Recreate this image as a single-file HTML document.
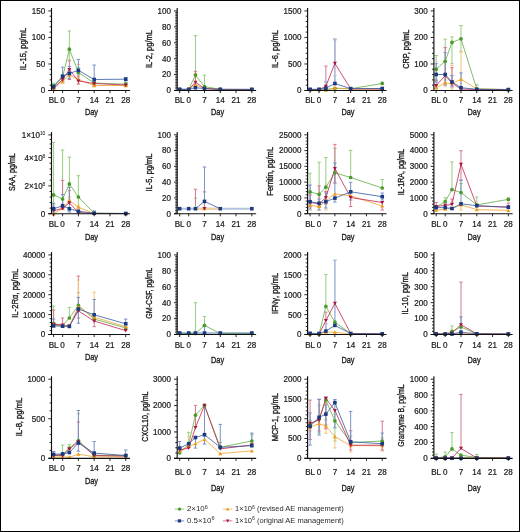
<!DOCTYPE html>
<html><head><meta charset="utf-8"><style>
html,body{margin:0;padding:0;background:#fff;}
svg{display:block;will-change:transform;}
text{font-family:"Liberation Sans",sans-serif;}
</style></head><body>
<svg width="520" height="532" viewBox="0 0 520 532">
<rect x="0" y="0" width="520" height="532" fill="#fff"/>
<g>
<path d="M53.58 85.8V83.2M51.88 83.2H55.28" stroke="#98cc80" stroke-width="1.0" fill="none"/>
<path d="M53.58 85.8V88.5M51.88 88.5H55.28" stroke="#98cc80" stroke-width="1.0" fill="none"/>
<path d="M62.6 77.1V74.5M60.9 74.5H64.3" stroke="#98cc80" stroke-width="1.0" fill="none"/>
<path d="M62.6 77.1V80M60.9 80H64.3" stroke="#98cc80" stroke-width="1.0" fill="none"/>
<path d="M69.36 49.2V31M67.66 31H71.06" stroke="#98cc80" stroke-width="1.0" fill="none"/>
<path d="M69.36 49.2V60M67.66 60H71.06" stroke="#98cc80" stroke-width="1.0" fill="none"/>
<path d="M78.39 72.4V67.5M76.69 67.5H80.09" stroke="#98cc80" stroke-width="1.0" fill="none"/>
<path d="M78.39 72.4V78M76.69 78H80.09" stroke="#98cc80" stroke-width="1.0" fill="none"/>
<path d="M94.17 83V81.5M92.47 81.5H95.87" stroke="#98cc80" stroke-width="1.0" fill="none"/>
<path d="M94.17 83V85M92.47 85H95.87" stroke="#98cc80" stroke-width="1.0" fill="none"/>
<path d="M125.74 84.2V82.5M124.04 82.5H127.44" stroke="#98cc80" stroke-width="1.0" fill="none"/>
<path d="M125.74 84.2V86M124.04 86H127.44" stroke="#98cc80" stroke-width="1.0" fill="none"/>
<path d="M53.58 88.5V87M51.88 87H55.28" stroke="#f4c478" stroke-width="1.0" fill="none"/>
<path d="M53.58 88.5V89.8M51.88 89.8H55.28" stroke="#f4c478" stroke-width="1.0" fill="none"/>
<path d="M62.6 81V79M60.9 79H64.3" stroke="#f4c478" stroke-width="1.0" fill="none"/>
<path d="M62.6 81V83.5M60.9 83.5H64.3" stroke="#f4c478" stroke-width="1.0" fill="none"/>
<path d="M69.36 74.8V70M67.66 70H71.06" stroke="#f4c478" stroke-width="1.0" fill="none"/>
<path d="M69.36 74.8V78M67.66 78H71.06" stroke="#f4c478" stroke-width="1.0" fill="none"/>
<path d="M78.39 79.5V64.5M76.69 64.5H80.09" stroke="#f4c478" stroke-width="1.0" fill="none"/>
<path d="M78.39 79.5V84.2M76.69 84.2H80.09" stroke="#f4c478" stroke-width="1.0" fill="none"/>
<path d="M94.17 85.5V84M92.47 84H95.87" stroke="#f4c478" stroke-width="1.0" fill="none"/>
<path d="M94.17 85.5V87M92.47 87H95.87" stroke="#f4c478" stroke-width="1.0" fill="none"/>
<path d="M125.74 85.5V84.5M124.04 84.5H127.44" stroke="#f4c478" stroke-width="1.0" fill="none"/>
<path d="M125.74 85.5V87M124.04 87H127.44" stroke="#f4c478" stroke-width="1.0" fill="none"/>
<path d="M53.58 88V86M51.88 86H55.28" stroke="#d57892" stroke-width="1.0" fill="none"/>
<path d="M53.58 88V89.5M51.88 89.5H55.28" stroke="#d57892" stroke-width="1.0" fill="none"/>
<path d="M62.6 79.5V77M60.9 77H64.3" stroke="#d57892" stroke-width="1.0" fill="none"/>
<path d="M62.6 79.5V82M60.9 82H64.3" stroke="#d57892" stroke-width="1.0" fill="none"/>
<path d="M69.36 69.7V60.9M67.66 60.9H71.06" stroke="#d57892" stroke-width="1.0" fill="none"/>
<path d="M69.36 69.7V79.5M67.66 79.5H71.06" stroke="#d57892" stroke-width="1.0" fill="none"/>
<path d="M78.39 81V76M76.69 76H80.09" stroke="#d57892" stroke-width="1.0" fill="none"/>
<path d="M78.39 81V84M76.69 84H80.09" stroke="#d57892" stroke-width="1.0" fill="none"/>
<path d="M94.17 83.5V82M92.47 82H95.87" stroke="#d57892" stroke-width="1.0" fill="none"/>
<path d="M94.17 83.5V85M92.47 85H95.87" stroke="#d57892" stroke-width="1.0" fill="none"/>
<path d="M125.74 85V84M124.04 84H127.44" stroke="#d57892" stroke-width="1.0" fill="none"/>
<path d="M125.74 85V86M124.04 86H127.44" stroke="#d57892" stroke-width="1.0" fill="none"/>
<path d="M53.58 86.9V84.5M51.88 84.5H55.28" stroke="#7891c8" stroke-width="1.0" fill="none"/>
<path d="M53.58 86.9V89M51.88 89H55.28" stroke="#7891c8" stroke-width="1.0" fill="none"/>
<path d="M62.6 76.3V67.2M60.9 67.2H64.3" stroke="#7891c8" stroke-width="1.0" fill="none"/>
<path d="M62.6 76.3V81M60.9 81H64.3" stroke="#7891c8" stroke-width="1.0" fill="none"/>
<path d="M69.36 73.5V66.5M67.66 66.5H71.06" stroke="#7891c8" stroke-width="1.0" fill="none"/>
<path d="M69.36 73.5V78.7M67.66 78.7H71.06" stroke="#7891c8" stroke-width="1.0" fill="none"/>
<path d="M78.39 70.3V59.4M76.69 59.4H80.09" stroke="#7891c8" stroke-width="1.0" fill="none"/>
<path d="M78.39 70.3V74M76.69 74H80.09" stroke="#7891c8" stroke-width="1.0" fill="none"/>
<path d="M94.17 79.5V65M92.47 65H95.87" stroke="#7891c8" stroke-width="1.0" fill="none"/>
<path d="M94.17 79.5V82M92.47 82H95.87" stroke="#7891c8" stroke-width="1.0" fill="none"/>
<path d="M125.74 79.2V77.5M124.04 77.5H127.44" stroke="#7891c8" stroke-width="1.0" fill="none"/>
<path d="M125.74 79.2V81M124.04 81H127.44" stroke="#7891c8" stroke-width="1.0" fill="none"/>
<path d="M53.58 85.8L62.6 77.1L69.36 49.2L78.39 72.4L94.17 83L125.74 84.2" stroke="#62ad44" stroke-width="0.8" fill="none"/>
<path d="M53.58 88.5L62.6 81L69.36 74.8L78.39 79.5L94.17 85.5L125.74 85.5" stroke="#f0a232" stroke-width="0.8" fill="none"/>
<path d="M53.58 88L62.6 79.5L69.36 69.7L78.39 81L94.17 83.5L125.74 85" stroke="#c0224f" stroke-width="0.8" fill="none"/>
<path d="M53.58 86.9L62.6 76.3L69.36 73.5L78.39 70.3L94.17 79.5L125.74 79.2" stroke="#34599f" stroke-width="0.8" fill="none"/>
<circle cx="53.58" cy="85.8" r="1.85" fill="#4a9a2a"/>
<circle cx="62.6" cy="77.1" r="1.85" fill="#4a9a2a"/>
<circle cx="69.36" cy="49.2" r="1.85" fill="#4a9a2a"/>
<circle cx="78.39" cy="72.4" r="1.85" fill="#4a9a2a"/>
<circle cx="94.17" cy="83" r="1.85" fill="#4a9a2a"/>
<circle cx="125.74" cy="84.2" r="1.85" fill="#4a9a2a"/>
<path d="M51.58 90.1L55.58 90.1L53.58 86.6Z" fill="#ef9b1c"/>
<path d="M60.6 82.6L64.6 82.6L62.6 79.1Z" fill="#ef9b1c"/>
<path d="M67.36 76.4L71.36 76.4L69.36 72.9Z" fill="#ef9b1c"/>
<path d="M76.39 81.1L80.39 81.1L78.39 77.6Z" fill="#ef9b1c"/>
<path d="M92.17 87.1L96.17 87.1L94.17 83.6Z" fill="#ef9b1c"/>
<path d="M123.74 87.1L127.74 87.1L125.74 83.6Z" fill="#ef9b1c"/>
<path d="M51.58 86.4L55.58 86.4L53.58 89.9Z" fill="#aa1442"/>
<path d="M60.6 77.9L64.6 77.9L62.6 81.4Z" fill="#aa1442"/>
<path d="M67.36 68.1L71.36 68.1L69.36 71.6Z" fill="#aa1442"/>
<path d="M76.39 79.4L80.39 79.4L78.39 82.9Z" fill="#aa1442"/>
<path d="M92.17 81.9L96.17 81.9L94.17 85.4Z" fill="#aa1442"/>
<path d="M123.74 83.4L127.74 83.4L125.74 86.9Z" fill="#aa1442"/>
<rect x="51.78" y="85.1" width="3.6" height="3.6" fill="#1b3a82"/>
<rect x="60.8" y="74.5" width="3.6" height="3.6" fill="#1b3a82"/>
<rect x="67.56" y="71.7" width="3.6" height="3.6" fill="#1b3a82"/>
<rect x="76.59" y="68.5" width="3.6" height="3.6" fill="#1b3a82"/>
<rect x="92.37" y="77.7" width="3.6" height="3.6" fill="#1b3a82"/>
<rect x="123.94" y="77.4" width="3.6" height="3.6" fill="#1b3a82"/>
<path d="M51.5 8V90.5M48.3 90.5H130.04" stroke="#111" stroke-width="1.15" fill="none"/>
<path d="M53.58 90.5v2.6M62.6 90.5v2.6M78.39 90.5v2.6M94.17 90.5v2.6M109.95 90.5v2.6M125.74 90.5v2.6" stroke="#111" stroke-width="0.9" fill="none"/>
<path d="M48.3 90.5H51.5M49.6 85.19H51.5M49.6 79.89H51.5M49.6 74.58H51.5M49.6 69.27H51.5M48.3 63.97H51.5M49.6 58.66H51.5M49.6 53.35H51.5M49.6 48.05H51.5M49.6 42.74H51.5M48.3 37.43H51.5M49.6 32.13H51.5M49.6 26.82H51.5M49.6 21.51H51.5M49.6 16.21H51.5M48.3 10.9H51.5" stroke="#111" stroke-width="0.9" fill="none"/>
<text x="0" y="0" text-anchor="end" font-size="8.4" fill="#1a1a1a" stroke="#1a1a1a" stroke-width="0.22" transform="translate(45.3 93.4) scale(0.96 1)">0</text>
<text x="0" y="0" text-anchor="end" font-size="8.4" fill="#1a1a1a" stroke="#1a1a1a" stroke-width="0.22" transform="translate(45.3 66.87) scale(0.96 1)">50</text>
<text x="0" y="0" text-anchor="end" font-size="8.4" fill="#1a1a1a" stroke="#1a1a1a" stroke-width="0.22" transform="translate(45.3 40.33) scale(0.96 1)">100</text>
<text x="0" y="0" text-anchor="end" font-size="8.4" fill="#1a1a1a" stroke="#1a1a1a" stroke-width="0.22" transform="translate(45.3 13.8) scale(0.96 1)">150</text>
<text x="0" y="0" text-anchor="middle" font-size="8.4" fill="#1a1a1a" stroke="#1a1a1a" stroke-width="0.22" transform="translate(53.58 102.5) scale(0.96 1)">BL</text>
<text x="0" y="0" text-anchor="middle" font-size="8.4" fill="#1a1a1a" stroke="#1a1a1a" stroke-width="0.22" transform="translate(62.6 102.5) scale(0.96 1)">0</text>
<text x="0" y="0" text-anchor="middle" font-size="8.4" fill="#1a1a1a" stroke="#1a1a1a" stroke-width="0.22" transform="translate(78.39 102.5) scale(0.96 1)">7</text>
<text x="0" y="0" text-anchor="middle" font-size="8.4" fill="#1a1a1a" stroke="#1a1a1a" stroke-width="0.22" transform="translate(94.17 102.5) scale(0.96 1)">14</text>
<text x="0" y="0" text-anchor="middle" font-size="8.4" fill="#1a1a1a" stroke="#1a1a1a" stroke-width="0.22" transform="translate(109.95 102.5) scale(0.96 1)">21</text>
<text x="0" y="0" text-anchor="middle" font-size="8.4" fill="#1a1a1a" stroke="#1a1a1a" stroke-width="0.22" transform="translate(125.74 102.5) scale(0.96 1)">28</text>
<text x="0" y="0" text-anchor="middle" font-size="9.6" fill="#1a1a1a" stroke="#1a1a1a" stroke-width="0.34" transform="translate(91.46 114.9) scale(0.77 1)">Day</text>
<text x="0" y="0" text-anchor="middle" font-size="9.0" fill="#1a1a1a" stroke="#1a1a1a" stroke-width="0.34" transform="translate(26.1 49) rotate(-90) scale(0.839 1)">IL-15, pg/mL</text>
</g>
<g>
<path d="M195.46 75.1V35.7M193.76 35.7H197.16" stroke="#98cc80" stroke-width="1.0" fill="none"/>
<path d="M204.48 86.6V75.1M202.78 75.1H206.18" stroke="#98cc80" stroke-width="1.0" fill="none"/>
<path d="M195.46 84.7V73.5M193.76 73.5H197.16" stroke="#f4c478" stroke-width="1.0" fill="none"/>
<path d="M195.46 82.3V71.3M193.76 71.3H197.16" stroke="#d57892" stroke-width="1.0" fill="none"/>
<path d="M195.46 87.7V85M193.76 85H197.16" stroke="#7891c8" stroke-width="1.0" fill="none"/>
<path d="M179.68 89.3L188.7 89.3L195.46 75.1L204.48 86.6L220.27 89.3L251.84 89.5" stroke="#62ad44" stroke-width="0.8" fill="none"/>
<path d="M179.68 89.5L188.7 89.5L195.46 84.7L204.48 88.5L220.27 89.5L251.84 89.5" stroke="#f0a232" stroke-width="0.8" fill="none"/>
<path d="M179.68 89.5L188.7 89.5L195.46 82.3L204.48 88.5L220.27 89.5L251.84 89.5" stroke="#c0224f" stroke-width="0.8" fill="none"/>
<path d="M179.68 89.3L188.7 89.3L195.46 87.7L204.48 88.6L220.27 89.3L251.84 89.3" stroke="#34599f" stroke-width="0.8" fill="none"/>
<circle cx="179.68" cy="89.3" r="1.85" fill="#4a9a2a"/>
<circle cx="188.7" cy="89.3" r="1.85" fill="#4a9a2a"/>
<circle cx="195.46" cy="75.1" r="1.85" fill="#4a9a2a"/>
<circle cx="204.48" cy="86.6" r="1.85" fill="#4a9a2a"/>
<circle cx="220.27" cy="89.3" r="1.85" fill="#4a9a2a"/>
<circle cx="251.84" cy="89.5" r="1.85" fill="#4a9a2a"/>
<path d="M177.68 91.1L181.68 91.1L179.68 87.6Z" fill="#ef9b1c"/>
<path d="M186.7 91.1L190.7 91.1L188.7 87.6Z" fill="#ef9b1c"/>
<path d="M193.46 86.3L197.46 86.3L195.46 82.8Z" fill="#ef9b1c"/>
<path d="M202.48 90.1L206.48 90.1L204.48 86.6Z" fill="#ef9b1c"/>
<path d="M218.27 91.1L222.27 91.1L220.27 87.6Z" fill="#ef9b1c"/>
<path d="M249.84 91.1L253.84 91.1L251.84 87.6Z" fill="#ef9b1c"/>
<path d="M177.68 87.9L181.68 87.9L179.68 91.4Z" fill="#aa1442"/>
<path d="M186.7 87.9L190.7 87.9L188.7 91.4Z" fill="#aa1442"/>
<path d="M193.46 80.7L197.46 80.7L195.46 84.2Z" fill="#aa1442"/>
<path d="M202.48 86.9L206.48 86.9L204.48 90.4Z" fill="#aa1442"/>
<path d="M218.27 87.9L222.27 87.9L220.27 91.4Z" fill="#aa1442"/>
<path d="M249.84 87.9L253.84 87.9L251.84 91.4Z" fill="#aa1442"/>
<rect x="177.88" y="87.5" width="3.6" height="3.6" fill="#1b3a82"/>
<rect x="186.9" y="87.5" width="3.6" height="3.6" fill="#1b3a82"/>
<rect x="193.66" y="85.9" width="3.6" height="3.6" fill="#1b3a82"/>
<rect x="202.68" y="86.8" width="3.6" height="3.6" fill="#1b3a82"/>
<rect x="218.47" y="87.5" width="3.6" height="3.6" fill="#1b3a82"/>
<rect x="250.04" y="87.5" width="3.6" height="3.6" fill="#1b3a82"/>
<path d="M177.2 8V90.5M174 90.5H256.14" stroke="#111" stroke-width="1.15" fill="none"/>
<path d="M179.68 90.5v2.6M188.7 90.5v2.6M204.48 90.5v2.6M220.27 90.5v2.6M236.05 90.5v2.6M251.84 90.5v2.6" stroke="#111" stroke-width="0.9" fill="none"/>
<path d="M174 90.5H177.2M175.3 88.91H177.2M175.3 87.32H177.2M175.3 85.72H177.2M175.3 84.13H177.2M175.3 82.54H177.2M175.3 80.95H177.2M175.3 79.36H177.2M175.3 77.76H177.2M175.3 76.17H177.2M174 74.58H177.2M175.3 72.99H177.2M175.3 71.4H177.2M175.3 69.8H177.2M175.3 68.21H177.2M175.3 66.62H177.2M175.3 65.03H177.2M175.3 63.44H177.2M175.3 61.84H177.2M175.3 60.25H177.2M174 58.66H177.2M175.3 57.07H177.2M175.3 55.48H177.2M175.3 53.88H177.2M175.3 52.29H177.2M175.3 50.7H177.2M175.3 49.11H177.2M175.3 47.52H177.2M175.3 45.92H177.2M175.3 44.33H177.2M174 42.74H177.2M175.3 41.15H177.2M175.3 39.56H177.2M175.3 37.96H177.2M175.3 36.37H177.2M175.3 34.78H177.2M175.3 33.19H177.2M175.3 31.6H177.2M175.3 30H177.2M175.3 28.41H177.2M174 26.82H177.2M175.3 25.23H177.2M175.3 23.64H177.2M175.3 22.04H177.2M175.3 20.45H177.2M175.3 18.86H177.2M175.3 17.27H177.2M175.3 15.68H177.2M175.3 14.08H177.2M175.3 12.49H177.2M174 10.9H177.2" stroke="#111" stroke-width="0.9" fill="none"/>
<text x="0" y="0" text-anchor="end" font-size="8.4" fill="#1a1a1a" stroke="#1a1a1a" stroke-width="0.22" transform="translate(171 93.4) scale(0.96 1)">0</text>
<text x="0" y="0" text-anchor="end" font-size="8.4" fill="#1a1a1a" stroke="#1a1a1a" stroke-width="0.22" transform="translate(171 77.48) scale(0.96 1)">20</text>
<text x="0" y="0" text-anchor="end" font-size="8.4" fill="#1a1a1a" stroke="#1a1a1a" stroke-width="0.22" transform="translate(171 61.56) scale(0.96 1)">40</text>
<text x="0" y="0" text-anchor="end" font-size="8.4" fill="#1a1a1a" stroke="#1a1a1a" stroke-width="0.22" transform="translate(171 45.64) scale(0.96 1)">60</text>
<text x="0" y="0" text-anchor="end" font-size="8.4" fill="#1a1a1a" stroke="#1a1a1a" stroke-width="0.22" transform="translate(171 29.72) scale(0.96 1)">80</text>
<text x="0" y="0" text-anchor="end" font-size="8.4" fill="#1a1a1a" stroke="#1a1a1a" stroke-width="0.22" transform="translate(171 13.8) scale(0.96 1)">100</text>
<text x="0" y="0" text-anchor="middle" font-size="8.4" fill="#1a1a1a" stroke="#1a1a1a" stroke-width="0.22" transform="translate(179.68 102.5) scale(0.96 1)">BL</text>
<text x="0" y="0" text-anchor="middle" font-size="8.4" fill="#1a1a1a" stroke="#1a1a1a" stroke-width="0.22" transform="translate(188.7 102.5) scale(0.96 1)">0</text>
<text x="0" y="0" text-anchor="middle" font-size="8.4" fill="#1a1a1a" stroke="#1a1a1a" stroke-width="0.22" transform="translate(204.48 102.5) scale(0.96 1)">7</text>
<text x="0" y="0" text-anchor="middle" font-size="8.4" fill="#1a1a1a" stroke="#1a1a1a" stroke-width="0.22" transform="translate(220.27 102.5) scale(0.96 1)">14</text>
<text x="0" y="0" text-anchor="middle" font-size="8.4" fill="#1a1a1a" stroke="#1a1a1a" stroke-width="0.22" transform="translate(236.05 102.5) scale(0.96 1)">21</text>
<text x="0" y="0" text-anchor="middle" font-size="8.4" fill="#1a1a1a" stroke="#1a1a1a" stroke-width="0.22" transform="translate(251.84 102.5) scale(0.96 1)">28</text>
<text x="0" y="0" text-anchor="middle" font-size="9.6" fill="#1a1a1a" stroke="#1a1a1a" stroke-width="0.34" transform="translate(217.56 114.9) scale(0.77 1)">Day</text>
<text x="0" y="0" text-anchor="middle" font-size="9.0" fill="#1a1a1a" stroke="#1a1a1a" stroke-width="0.34" transform="translate(152.2 49) rotate(-90) scale(0.838 1)">IL-2, pg/mL</text>
</g>
<g>
<path d="M382.24 83.5V82M380.54 82H383.94" stroke="#98cc80" stroke-width="1.0" fill="none"/>
<path d="M334.89 87.9V75.6M333.19 75.6H336.59" stroke="#f4c478" stroke-width="1.0" fill="none"/>
<path d="M325.87 86.3V66.1M324.17 66.1H327.56" stroke="#d57892" stroke-width="1.0" fill="none"/>
<path d="M334.89 63.4V39M333.19 39H336.59" stroke="#d57892" stroke-width="1.0" fill="none"/>
<path d="M325.87 88.2V81.9M324.17 81.9H327.56" stroke="#a9badc" stroke-width="1.6" fill="none"/>
<path d="M334.89 83.5V39.6M333.19 39.6H336.59" stroke="#a9badc" stroke-width="1.6" fill="none"/>
<path d="M310.08 89.5L319.1 89.5L325.87 89.3L334.89 88.5L350.67 88.7L382.24 83.5" stroke="#62ad44" stroke-width="0.8" fill="none"/>
<path d="M310.08 89.6L319.1 89.6L325.87 90.2L334.89 87.9L350.67 89L382.24 89.2" stroke="#f0a232" stroke-width="0.8" fill="none"/>
<path d="M310.08 89.5L319.1 89.5L325.87 86.3L334.89 63.4L350.67 88.8L382.24 89" stroke="#c0224f" stroke-width="0.8" fill="none"/>
<path d="M310.08 89.3L319.1 89.3L325.87 88.2L334.89 83.5L350.67 88.7L382.24 88.5" stroke="#34599f" stroke-width="0.8" fill="none"/>
<circle cx="310.08" cy="89.5" r="1.85" fill="#4a9a2a"/>
<circle cx="319.1" cy="89.5" r="1.85" fill="#4a9a2a"/>
<circle cx="325.87" cy="89.3" r="1.85" fill="#4a9a2a"/>
<circle cx="334.89" cy="88.5" r="1.85" fill="#4a9a2a"/>
<circle cx="350.67" cy="88.7" r="1.85" fill="#4a9a2a"/>
<circle cx="382.24" cy="83.5" r="1.85" fill="#4a9a2a"/>
<path d="M308.08 91.2L312.08 91.2L310.08 87.7Z" fill="#ef9b1c"/>
<path d="M317.1 91.2L321.1 91.2L319.1 87.7Z" fill="#ef9b1c"/>
<path d="M323.87 91.8L327.87 91.8L325.87 88.3Z" fill="#ef9b1c"/>
<path d="M332.89 89.5L336.89 89.5L334.89 86Z" fill="#ef9b1c"/>
<path d="M348.67 90.6L352.67 90.6L350.67 87.1Z" fill="#ef9b1c"/>
<path d="M380.24 90.8L384.24 90.8L382.24 87.3Z" fill="#ef9b1c"/>
<path d="M308.08 87.9L312.08 87.9L310.08 91.4Z" fill="#aa1442"/>
<path d="M317.1 87.9L321.1 87.9L319.1 91.4Z" fill="#aa1442"/>
<path d="M323.87 84.7L327.87 84.7L325.87 88.2Z" fill="#aa1442"/>
<path d="M332.89 61.8L336.89 61.8L334.89 65.3Z" fill="#aa1442"/>
<path d="M348.67 87.2L352.67 87.2L350.67 90.7Z" fill="#aa1442"/>
<path d="M380.24 87.4L384.24 87.4L382.24 90.9Z" fill="#aa1442"/>
<rect x="308.28" y="87.5" width="3.6" height="3.6" fill="#1b3a82"/>
<rect x="317.3" y="87.5" width="3.6" height="3.6" fill="#1b3a82"/>
<rect x="324.06" y="86.4" width="3.6" height="3.6" fill="#1b3a82"/>
<rect x="333.09" y="81.7" width="3.6" height="3.6" fill="#1b3a82"/>
<rect x="348.87" y="86.9" width="3.6" height="3.6" fill="#1b3a82"/>
<rect x="380.44" y="86.7" width="3.6" height="3.6" fill="#1b3a82"/>
<path d="M307.6 8V90.5M304.4 90.5H386.54" stroke="#111" stroke-width="1.15" fill="none"/>
<path d="M310.08 90.5v2.6M319.1 90.5v2.6M334.89 90.5v2.6M350.67 90.5v2.6M366.46 90.5v2.6M382.24 90.5v2.6" stroke="#111" stroke-width="0.9" fill="none"/>
<path d="M304.4 90.5H307.6M305.7 85.19H307.6M305.7 79.89H307.6M305.7 74.58H307.6M305.7 69.27H307.6M304.4 63.97H307.6M305.7 58.66H307.6M305.7 53.35H307.6M305.7 48.05H307.6M305.7 42.74H307.6M304.4 37.43H307.6M305.7 32.13H307.6M305.7 26.82H307.6M305.7 21.51H307.6M305.7 16.21H307.6M304.4 10.9H307.6" stroke="#111" stroke-width="0.9" fill="none"/>
<text x="0" y="0" text-anchor="end" font-size="8.4" fill="#1a1a1a" stroke="#1a1a1a" stroke-width="0.22" transform="translate(301.4 93.4) scale(0.96 1)">0</text>
<text x="0" y="0" text-anchor="end" font-size="8.4" fill="#1a1a1a" stroke="#1a1a1a" stroke-width="0.22" transform="translate(301.4 66.87) scale(0.96 1)">500</text>
<text x="0" y="0" text-anchor="end" font-size="8.4" fill="#1a1a1a" stroke="#1a1a1a" stroke-width="0.22" transform="translate(301.4 40.33) scale(0.96 1)">1000</text>
<text x="0" y="0" text-anchor="end" font-size="8.4" fill="#1a1a1a" stroke="#1a1a1a" stroke-width="0.22" transform="translate(301.4 13.8) scale(0.96 1)">1500</text>
<text x="0" y="0" text-anchor="middle" font-size="8.4" fill="#1a1a1a" stroke="#1a1a1a" stroke-width="0.22" transform="translate(310.08 102.5) scale(0.96 1)">BL</text>
<text x="0" y="0" text-anchor="middle" font-size="8.4" fill="#1a1a1a" stroke="#1a1a1a" stroke-width="0.22" transform="translate(319.1 102.5) scale(0.96 1)">0</text>
<text x="0" y="0" text-anchor="middle" font-size="8.4" fill="#1a1a1a" stroke="#1a1a1a" stroke-width="0.22" transform="translate(334.89 102.5) scale(0.96 1)">7</text>
<text x="0" y="0" text-anchor="middle" font-size="8.4" fill="#1a1a1a" stroke="#1a1a1a" stroke-width="0.22" transform="translate(350.67 102.5) scale(0.96 1)">14</text>
<text x="0" y="0" text-anchor="middle" font-size="8.4" fill="#1a1a1a" stroke="#1a1a1a" stroke-width="0.22" transform="translate(366.46 102.5) scale(0.96 1)">21</text>
<text x="0" y="0" text-anchor="middle" font-size="8.4" fill="#1a1a1a" stroke="#1a1a1a" stroke-width="0.22" transform="translate(382.24 102.5) scale(0.96 1)">28</text>
<text x="0" y="0" text-anchor="middle" font-size="9.6" fill="#1a1a1a" stroke="#1a1a1a" stroke-width="0.34" transform="translate(347.96 114.9) scale(0.77 1)">Day</text>
<text x="0" y="0" text-anchor="middle" font-size="9.0" fill="#1a1a1a" stroke="#1a1a1a" stroke-width="0.34" transform="translate(278.2 49) rotate(-90) scale(0.838 1)">IL-6, pg/mL</text>
</g>
<g>
<path d="M436.18 69.2V55.5M434.48 55.5H437.88" stroke="#98cc80" stroke-width="1.0" fill="none"/>
<path d="M436.18 69.2V80.3M434.48 80.3H437.88" stroke="#98cc80" stroke-width="1.0" fill="none"/>
<path d="M445.2 61.3V39.2M443.5 39.2H446.9" stroke="#98cc80" stroke-width="1.0" fill="none"/>
<path d="M445.2 61.3V80M443.5 80H446.9" stroke="#98cc80" stroke-width="1.0" fill="none"/>
<path d="M451.96 42.4V36.9M450.26 36.9H453.66" stroke="#98cc80" stroke-width="1.0" fill="none"/>
<path d="M451.96 42.4V63.7M450.26 63.7H453.66" stroke="#98cc80" stroke-width="1.0" fill="none"/>
<path d="M460.99 38.8V25.5M459.29 25.5H462.69" stroke="#98cc80" stroke-width="1.0" fill="none"/>
<path d="M460.99 38.8V52M459.29 52H462.69" stroke="#98cc80" stroke-width="1.0" fill="none"/>
<path d="M476.77 89V84.8M475.07 84.8H478.47" stroke="#98cc80" stroke-width="1.0" fill="none"/>
<path d="M436.18 87.7V85.5M434.48 85.5H437.88" stroke="#f4c478" stroke-width="1.0" fill="none"/>
<path d="M436.18 87.7V89M434.48 89H437.88" stroke="#f4c478" stroke-width="1.0" fill="none"/>
<path d="M445.2 83V78M443.5 78H446.9" stroke="#f4c478" stroke-width="1.0" fill="none"/>
<path d="M445.2 83V86M443.5 86H446.9" stroke="#f4c478" stroke-width="1.0" fill="none"/>
<path d="M451.96 83.5V65.3M450.26 65.3H453.66" stroke="#f4c478" stroke-width="1.0" fill="none"/>
<path d="M451.96 83.5V89M450.26 89H453.66" stroke="#f4c478" stroke-width="1.0" fill="none"/>
<path d="M460.99 79.2V51.4M459.29 51.4H462.69" stroke="#f4c478" stroke-width="1.0" fill="none"/>
<path d="M460.99 79.2V88M459.29 88H462.69" stroke="#f4c478" stroke-width="1.0" fill="none"/>
<path d="M436.18 85.5V80M434.48 80H437.88" stroke="#d57892" stroke-width="1.0" fill="none"/>
<path d="M436.18 85.5V88M434.48 88H437.88" stroke="#d57892" stroke-width="1.0" fill="none"/>
<path d="M445.2 75.6V47.6M443.5 47.6H446.9" stroke="#d57892" stroke-width="1.0" fill="none"/>
<path d="M445.2 75.6V83M443.5 83H446.9" stroke="#d57892" stroke-width="1.0" fill="none"/>
<path d="M451.96 83V67.7M450.26 67.7H453.66" stroke="#d57892" stroke-width="1.0" fill="none"/>
<path d="M451.96 83V87M450.26 87H453.66" stroke="#d57892" stroke-width="1.0" fill="none"/>
<path d="M436.18 74.5V63.7M434.48 63.7H437.88" stroke="#7891c8" stroke-width="1.0" fill="none"/>
<path d="M436.18 74.5V82M434.48 82H437.88" stroke="#7891c8" stroke-width="1.0" fill="none"/>
<path d="M445.2 74.5V52.7M443.5 52.7H446.9" stroke="#7891c8" stroke-width="1.0" fill="none"/>
<path d="M445.2 74.5V85M443.5 85H446.9" stroke="#7891c8" stroke-width="1.0" fill="none"/>
<path d="M451.96 81.9V75.6M450.26 75.6H453.66" stroke="#7891c8" stroke-width="1.0" fill="none"/>
<path d="M451.96 81.9V86M450.26 86H453.66" stroke="#7891c8" stroke-width="1.0" fill="none"/>
<path d="M460.99 87.7V72.9M459.29 72.9H462.69" stroke="#7891c8" stroke-width="1.0" fill="none"/>
<path d="M436.18 69.2L445.2 61.3L451.96 42.4L460.99 38.8L476.77 89L508.34 89.5" stroke="#62ad44" stroke-width="0.8" fill="none"/>
<path d="M436.18 87.7L445.2 83L451.96 83.5L460.99 79.2L476.77 89L508.34 89.5" stroke="#f0a232" stroke-width="0.8" fill="none"/>
<path d="M436.18 85.5L445.2 75.6L451.96 83L460.99 89L476.77 89.6L508.34 89.6" stroke="#c0224f" stroke-width="0.8" fill="none"/>
<path d="M436.18 74.5L445.2 74.5L451.96 81.9L460.99 87.7L476.77 89.3L508.34 89.6" stroke="#34599f" stroke-width="0.8" fill="none"/>
<circle cx="436.18" cy="69.2" r="1.85" fill="#4a9a2a"/>
<circle cx="445.2" cy="61.3" r="1.85" fill="#4a9a2a"/>
<circle cx="451.96" cy="42.4" r="1.85" fill="#4a9a2a"/>
<circle cx="460.99" cy="38.8" r="1.85" fill="#4a9a2a"/>
<circle cx="476.77" cy="89" r="1.85" fill="#4a9a2a"/>
<circle cx="508.34" cy="89.5" r="1.85" fill="#4a9a2a"/>
<path d="M434.18 89.3L438.18 89.3L436.18 85.8Z" fill="#ef9b1c"/>
<path d="M443.2 84.6L447.2 84.6L445.2 81.1Z" fill="#ef9b1c"/>
<path d="M449.96 85.1L453.96 85.1L451.96 81.6Z" fill="#ef9b1c"/>
<path d="M458.99 80.8L462.99 80.8L460.99 77.3Z" fill="#ef9b1c"/>
<path d="M474.77 90.6L478.77 90.6L476.77 87.1Z" fill="#ef9b1c"/>
<path d="M506.34 91.1L510.34 91.1L508.34 87.6Z" fill="#ef9b1c"/>
<path d="M434.18 83.9L438.18 83.9L436.18 87.4Z" fill="#aa1442"/>
<path d="M443.2 74L447.2 74L445.2 77.5Z" fill="#aa1442"/>
<path d="M449.96 81.4L453.96 81.4L451.96 84.9Z" fill="#aa1442"/>
<path d="M458.99 87.4L462.99 87.4L460.99 90.9Z" fill="#aa1442"/>
<path d="M474.77 88L478.77 88L476.77 91.5Z" fill="#aa1442"/>
<path d="M506.34 88L510.34 88L508.34 91.5Z" fill="#aa1442"/>
<rect x="434.38" y="72.7" width="3.6" height="3.6" fill="#1b3a82"/>
<rect x="443.4" y="72.7" width="3.6" height="3.6" fill="#1b3a82"/>
<rect x="450.16" y="80.1" width="3.6" height="3.6" fill="#1b3a82"/>
<rect x="459.19" y="85.9" width="3.6" height="3.6" fill="#1b3a82"/>
<rect x="474.97" y="87.5" width="3.6" height="3.6" fill="#1b3a82"/>
<rect x="506.54" y="87.8" width="3.6" height="3.6" fill="#1b3a82"/>
<path d="M433.9 8V90.5M430.7 90.5H512.64" stroke="#111" stroke-width="1.15" fill="none"/>
<path d="M436.18 90.5v2.6M445.2 90.5v2.6M460.99 90.5v2.6M476.77 90.5v2.6M492.56 90.5v2.6M508.34 90.5v2.6" stroke="#111" stroke-width="0.9" fill="none"/>
<path d="M430.7 90.5H433.9M432 85.19H433.9M432 79.89H433.9M432 74.58H433.9M432 69.27H433.9M430.7 63.97H433.9M432 58.66H433.9M432 53.35H433.9M432 48.05H433.9M432 42.74H433.9M430.7 37.43H433.9M432 32.13H433.9M432 26.82H433.9M432 21.51H433.9M432 16.21H433.9M430.7 10.9H433.9" stroke="#111" stroke-width="0.9" fill="none"/>
<text x="0" y="0" text-anchor="end" font-size="8.4" fill="#1a1a1a" stroke="#1a1a1a" stroke-width="0.22" transform="translate(427.7 93.4) scale(0.96 1)">0</text>
<text x="0" y="0" text-anchor="end" font-size="8.4" fill="#1a1a1a" stroke="#1a1a1a" stroke-width="0.22" transform="translate(427.7 66.87) scale(0.96 1)">100</text>
<text x="0" y="0" text-anchor="end" font-size="8.4" fill="#1a1a1a" stroke="#1a1a1a" stroke-width="0.22" transform="translate(427.7 40.33) scale(0.96 1)">200</text>
<text x="0" y="0" text-anchor="end" font-size="8.4" fill="#1a1a1a" stroke="#1a1a1a" stroke-width="0.22" transform="translate(427.7 13.8) scale(0.96 1)">300</text>
<text x="0" y="0" text-anchor="middle" font-size="8.4" fill="#1a1a1a" stroke="#1a1a1a" stroke-width="0.22" transform="translate(436.18 102.5) scale(0.96 1)">BL</text>
<text x="0" y="0" text-anchor="middle" font-size="8.4" fill="#1a1a1a" stroke="#1a1a1a" stroke-width="0.22" transform="translate(445.2 102.5) scale(0.96 1)">0</text>
<text x="0" y="0" text-anchor="middle" font-size="8.4" fill="#1a1a1a" stroke="#1a1a1a" stroke-width="0.22" transform="translate(460.99 102.5) scale(0.96 1)">7</text>
<text x="0" y="0" text-anchor="middle" font-size="8.4" fill="#1a1a1a" stroke="#1a1a1a" stroke-width="0.22" transform="translate(476.77 102.5) scale(0.96 1)">14</text>
<text x="0" y="0" text-anchor="middle" font-size="8.4" fill="#1a1a1a" stroke="#1a1a1a" stroke-width="0.22" transform="translate(492.56 102.5) scale(0.96 1)">21</text>
<text x="0" y="0" text-anchor="middle" font-size="8.4" fill="#1a1a1a" stroke="#1a1a1a" stroke-width="0.22" transform="translate(508.34 102.5) scale(0.96 1)">28</text>
<text x="0" y="0" text-anchor="middle" font-size="9.6" fill="#1a1a1a" stroke="#1a1a1a" stroke-width="0.34" transform="translate(474.06 114.9) scale(0.77 1)">Day</text>
<text x="0" y="0" text-anchor="middle" font-size="9.0" fill="#1a1a1a" stroke="#1a1a1a" stroke-width="0.34" transform="translate(408.5 49.3) rotate(-90) scale(0.818 1)">CRP, pg/mL</text>
</g>
<g>
<path d="M53.58 194.9V142.5M51.88 142.5H55.28" stroke="#98cc80" stroke-width="1.0" fill="none"/>
<path d="M53.58 194.9V205M51.88 205H55.28" stroke="#98cc80" stroke-width="1.0" fill="none"/>
<path d="M62.6 199V150M60.9 150H64.3" stroke="#98cc80" stroke-width="1.0" fill="none"/>
<path d="M62.6 199V208M60.9 208H64.3" stroke="#98cc80" stroke-width="1.0" fill="none"/>
<path d="M69.36 183.9V157.2M67.66 157.2H71.06" stroke="#98cc80" stroke-width="1.0" fill="none"/>
<path d="M69.36 183.9V200M67.66 200H71.06" stroke="#98cc80" stroke-width="1.0" fill="none"/>
<path d="M78.39 197V175.7M76.69 175.7H80.09" stroke="#98cc80" stroke-width="1.0" fill="none"/>
<path d="M78.39 197V207M76.69 207H80.09" stroke="#98cc80" stroke-width="1.0" fill="none"/>
<path d="M62.6 208.5V206M60.9 206H64.3" stroke="#f4c478" stroke-width="1.0" fill="none"/>
<path d="M69.36 200.6V197M67.66 197H71.06" stroke="#f4c478" stroke-width="1.0" fill="none"/>
<path d="M78.39 207.2V205M76.69 205H80.09" stroke="#f4c478" stroke-width="1.0" fill="none"/>
<path d="M53.58 210.7V207M51.88 207H55.28" stroke="#d57892" stroke-width="1.0" fill="none"/>
<path d="M62.6 208.5V180.4M60.9 180.4H64.3" stroke="#d57892" stroke-width="1.0" fill="none"/>
<path d="M69.36 202.8V190.7M67.66 190.7H71.06" stroke="#d57892" stroke-width="1.0" fill="none"/>
<path d="M53.58 208.8V203.3M51.88 203.3H55.28" stroke="#7891c8" stroke-width="1.0" fill="none"/>
<path d="M53.58 208.8V212M51.88 212H55.28" stroke="#7891c8" stroke-width="1.0" fill="none"/>
<path d="M62.6 205.7V194.6M60.9 194.6H64.3" stroke="#7891c8" stroke-width="1.0" fill="none"/>
<path d="M62.6 205.7V209M60.9 209H64.3" stroke="#7891c8" stroke-width="1.0" fill="none"/>
<path d="M69.36 208.8V187.5M67.66 187.5H71.06" stroke="#7891c8" stroke-width="1.0" fill="none"/>
<path d="M69.36 208.8V212M67.66 212H71.06" stroke="#7891c8" stroke-width="1.0" fill="none"/>
<path d="M94.17 213.3V210.9M92.47 210.9H95.87" stroke="#7891c8" stroke-width="1.0" fill="none"/>
<path d="M53.58 194.9L62.6 199L69.36 183.9L78.39 197L94.17 213.2L125.74 213.5" stroke="#62ad44" stroke-width="0.8" fill="none"/>
<path d="M53.58 213.8L62.6 208.5L69.36 200.6L78.39 207.2L94.17 213.5L125.74 213.6" stroke="#f0a232" stroke-width="0.8" fill="none"/>
<path d="M53.58 210.7L62.6 208.5L69.36 202.8L78.39 212.5L94.17 213.5L125.74 213.5" stroke="#c0224f" stroke-width="0.8" fill="none"/>
<path d="M53.58 208.8L62.6 205.7L69.36 208.8L78.39 211.2L94.17 213.3L125.74 213.5" stroke="#34599f" stroke-width="0.8" fill="none"/>
<circle cx="53.58" cy="194.9" r="1.85" fill="#4a9a2a"/>
<circle cx="62.6" cy="199" r="1.85" fill="#4a9a2a"/>
<circle cx="69.36" cy="183.9" r="1.85" fill="#4a9a2a"/>
<circle cx="78.39" cy="197" r="1.85" fill="#4a9a2a"/>
<circle cx="94.17" cy="213.2" r="1.85" fill="#4a9a2a"/>
<circle cx="125.74" cy="213.5" r="1.85" fill="#4a9a2a"/>
<path d="M51.58 215.4L55.58 215.4L53.58 211.9Z" fill="#ef9b1c"/>
<path d="M60.6 210.1L64.6 210.1L62.6 206.6Z" fill="#ef9b1c"/>
<path d="M67.36 202.2L71.36 202.2L69.36 198.7Z" fill="#ef9b1c"/>
<path d="M76.39 208.8L80.39 208.8L78.39 205.3Z" fill="#ef9b1c"/>
<path d="M92.17 215.1L96.17 215.1L94.17 211.6Z" fill="#ef9b1c"/>
<path d="M123.74 215.2L127.74 215.2L125.74 211.7Z" fill="#ef9b1c"/>
<path d="M51.58 209.1L55.58 209.1L53.58 212.6Z" fill="#aa1442"/>
<path d="M60.6 206.9L64.6 206.9L62.6 210.4Z" fill="#aa1442"/>
<path d="M67.36 201.2L71.36 201.2L69.36 204.7Z" fill="#aa1442"/>
<path d="M76.39 210.9L80.39 210.9L78.39 214.4Z" fill="#aa1442"/>
<path d="M92.17 211.9L96.17 211.9L94.17 215.4Z" fill="#aa1442"/>
<path d="M123.74 211.9L127.74 211.9L125.74 215.4Z" fill="#aa1442"/>
<rect x="51.78" y="207" width="3.6" height="3.6" fill="#1b3a82"/>
<rect x="60.8" y="203.9" width="3.6" height="3.6" fill="#1b3a82"/>
<rect x="67.56" y="207" width="3.6" height="3.6" fill="#1b3a82"/>
<rect x="76.59" y="209.4" width="3.6" height="3.6" fill="#1b3a82"/>
<rect x="92.37" y="211.5" width="3.6" height="3.6" fill="#1b3a82"/>
<rect x="123.94" y="211.7" width="3.6" height="3.6" fill="#1b3a82"/>
<path d="M51.5 131.9V213.7M48.3 213.7H130.04" stroke="#111" stroke-width="1.15" fill="none"/>
<path d="M53.58 213.7v2.6M62.6 213.7v2.6M78.39 213.7v2.6M94.17 213.7v2.6M109.95 213.7v2.6M125.74 213.7v2.6" stroke="#111" stroke-width="0.9" fill="none"/>
<path d="M48.3 213.7H51.5M49.6 208.14H51.5M49.6 202.58H51.5M49.6 197.02H51.5M49.6 191.46H51.5M48.3 185.9H51.5M49.6 180.24H51.5M49.6 174.58H51.5M49.6 168.92H51.5M49.6 163.26H51.5M48.3 157.6H51.5M49.6 153.06H51.5M49.6 148.52H51.5M49.6 143.98H51.5M49.6 139.44H51.5M48.3 134.9H51.5" stroke="#111" stroke-width="0.9" fill="none"/>
<text x="0" y="0" text-anchor="end" font-size="8.4" fill="#1a1a1a" stroke="#1a1a1a" stroke-width="0.22" transform="translate(45.3 216.6) scale(0.96 1)">0</text>
<text x="0" y="0" text-anchor="end" font-size="8.4" fill="#1a1a1a" stroke="#1a1a1a" stroke-width="0.22" transform="translate(45.3 188.8) scale(0.96 1)">2×10<tspan dy="-2.9" font-size="5.0" stroke-width="0.05">8</tspan></text>
<text x="0" y="0" text-anchor="end" font-size="8.4" fill="#1a1a1a" stroke="#1a1a1a" stroke-width="0.22" transform="translate(45.3 160.5) scale(0.96 1)">4×10<tspan dy="-2.9" font-size="5.0" stroke-width="0.05">8</tspan></text>
<text x="0" y="0" text-anchor="end" font-size="8.4" fill="#1a1a1a" stroke="#1a1a1a" stroke-width="0.22" transform="translate(45.3 137.8) scale(0.96 1)">1×10<tspan dy="-2.9" font-size="5.0" stroke-width="0.05">10</tspan></text>
<text x="0" y="0" text-anchor="middle" font-size="8.4" fill="#1a1a1a" stroke="#1a1a1a" stroke-width="0.22" transform="translate(53.58 226.7) scale(0.96 1)">BL</text>
<text x="0" y="0" text-anchor="middle" font-size="8.4" fill="#1a1a1a" stroke="#1a1a1a" stroke-width="0.22" transform="translate(62.6 226.7) scale(0.96 1)">0</text>
<text x="0" y="0" text-anchor="middle" font-size="8.4" fill="#1a1a1a" stroke="#1a1a1a" stroke-width="0.22" transform="translate(78.39 226.7) scale(0.96 1)">7</text>
<text x="0" y="0" text-anchor="middle" font-size="8.4" fill="#1a1a1a" stroke="#1a1a1a" stroke-width="0.22" transform="translate(94.17 226.7) scale(0.96 1)">14</text>
<text x="0" y="0" text-anchor="middle" font-size="8.4" fill="#1a1a1a" stroke="#1a1a1a" stroke-width="0.22" transform="translate(109.95 226.7) scale(0.96 1)">21</text>
<text x="0" y="0" text-anchor="middle" font-size="8.4" fill="#1a1a1a" stroke="#1a1a1a" stroke-width="0.22" transform="translate(125.74 226.7) scale(0.96 1)">28</text>
<text x="0" y="0" text-anchor="middle" font-size="9.6" fill="#1a1a1a" stroke="#1a1a1a" stroke-width="0.34" transform="translate(91.46 239.8) scale(0.77 1)">Day</text>
<text x="0" y="0" text-anchor="middle" font-size="9.0" fill="#1a1a1a" stroke="#1a1a1a" stroke-width="0.34" transform="translate(14.8 172.1) rotate(-90) scale(0.789 1)">SAA, pg/mL</text>
</g>
<g>
<path d="M179.68 208.7H251.84" stroke="#b3c3df" stroke-width="2"/><path d="M195.46 208.7H220.27" stroke="#f6d398" stroke-width="2"/><path d="M195.46 208.7L204.48 201.4L220.27 208.7" stroke="#34599f" stroke-width="0.8" fill="none"/>
<path d="M195.46 208.7V198.2M193.76 198.2H197.16" stroke="#98cc80" stroke-width="1.0" fill="none"/>
<path d="M195.46 205.4V189.2M193.76 189.2H197.16" stroke="#d57892" stroke-width="1.0" fill="none"/>
<path d="M204.48 208.7V191.9M202.78 191.9H206.18" stroke="#d57892" stroke-width="1.0" fill="none"/>
<path d="M204.48 201.4V167M202.78 167H206.18" stroke="#7891c8" stroke-width="1.0" fill="none"/>
<path d="M202.48 210.3L206.48 210.3L204.48 206.8Z" fill="#ef9b1c"/>
<path d="M202.48 207.1L206.48 207.1L204.48 210.6Z" fill="#aa1442"/>
<rect x="177.88" y="206.9" width="3.6" height="3.6" fill="#1b3a82"/>
<rect x="186.9" y="206.9" width="3.6" height="3.6" fill="#1b3a82"/>
<rect x="193.66" y="206.9" width="3.6" height="3.6" fill="#1b3a82"/>
<rect x="202.68" y="199.6" width="3.6" height="3.6" fill="#1b3a82"/>
<rect x="218.47" y="206.9" width="3.6" height="3.6" fill="#1b3a82"/>
<rect x="250.04" y="206.9" width="3.6" height="3.6" fill="#1b3a82"/>
<path d="M177.2 131.9V213.7M174 213.7H256.14" stroke="#111" stroke-width="1.15" fill="none"/>
<path d="M179.68 213.7v2.6M188.7 213.7v2.6M204.48 213.7v2.6M220.27 213.7v2.6M236.05 213.7v2.6M251.84 213.7v2.6" stroke="#111" stroke-width="0.9" fill="none"/>
<path d="M174 213.7H177.2M175.3 212.12H177.2M175.3 210.54H177.2M175.3 208.97H177.2M175.3 207.39H177.2M175.3 205.81H177.2M175.3 204.23H177.2M175.3 202.65H177.2M175.3 201.08H177.2M175.3 199.5H177.2M174 197.92H177.2M175.3 196.34H177.2M175.3 194.76H177.2M175.3 193.19H177.2M175.3 191.61H177.2M175.3 190.03H177.2M175.3 188.45H177.2M175.3 186.87H177.2M175.3 185.3H177.2M175.3 183.72H177.2M174 182.14H177.2M175.3 180.56H177.2M175.3 178.98H177.2M175.3 177.41H177.2M175.3 175.83H177.2M175.3 174.25H177.2M175.3 172.67H177.2M175.3 171.09H177.2M175.3 169.52H177.2M175.3 167.94H177.2M174 166.36H177.2M175.3 164.78H177.2M175.3 163.2H177.2M175.3 161.63H177.2M175.3 160.05H177.2M175.3 158.47H177.2M175.3 156.89H177.2M175.3 155.31H177.2M175.3 153.74H177.2M175.3 152.16H177.2M174 150.58H177.2M175.3 149H177.2M175.3 147.42H177.2M175.3 145.85H177.2M175.3 144.27H177.2M175.3 142.69H177.2M175.3 141.11H177.2M175.3 139.53H177.2M175.3 137.96H177.2M175.3 136.38H177.2M174 134.8H177.2" stroke="#111" stroke-width="0.9" fill="none"/>
<text x="0" y="0" text-anchor="end" font-size="8.4" fill="#1a1a1a" stroke="#1a1a1a" stroke-width="0.22" transform="translate(171 216.6) scale(0.96 1)">0</text>
<text x="0" y="0" text-anchor="end" font-size="8.4" fill="#1a1a1a" stroke="#1a1a1a" stroke-width="0.22" transform="translate(171 200.82) scale(0.96 1)">20</text>
<text x="0" y="0" text-anchor="end" font-size="8.4" fill="#1a1a1a" stroke="#1a1a1a" stroke-width="0.22" transform="translate(171 185.04) scale(0.96 1)">40</text>
<text x="0" y="0" text-anchor="end" font-size="8.4" fill="#1a1a1a" stroke="#1a1a1a" stroke-width="0.22" transform="translate(171 169.26) scale(0.96 1)">60</text>
<text x="0" y="0" text-anchor="end" font-size="8.4" fill="#1a1a1a" stroke="#1a1a1a" stroke-width="0.22" transform="translate(171 153.48) scale(0.96 1)">80</text>
<text x="0" y="0" text-anchor="end" font-size="8.4" fill="#1a1a1a" stroke="#1a1a1a" stroke-width="0.22" transform="translate(171 137.7) scale(0.96 1)">100</text>
<text x="0" y="0" text-anchor="middle" font-size="8.4" fill="#1a1a1a" stroke="#1a1a1a" stroke-width="0.22" transform="translate(179.68 226.7) scale(0.96 1)">BL</text>
<text x="0" y="0" text-anchor="middle" font-size="8.4" fill="#1a1a1a" stroke="#1a1a1a" stroke-width="0.22" transform="translate(188.7 226.7) scale(0.96 1)">0</text>
<text x="0" y="0" text-anchor="middle" font-size="8.4" fill="#1a1a1a" stroke="#1a1a1a" stroke-width="0.22" transform="translate(204.48 226.7) scale(0.96 1)">7</text>
<text x="0" y="0" text-anchor="middle" font-size="8.4" fill="#1a1a1a" stroke="#1a1a1a" stroke-width="0.22" transform="translate(220.27 226.7) scale(0.96 1)">14</text>
<text x="0" y="0" text-anchor="middle" font-size="8.4" fill="#1a1a1a" stroke="#1a1a1a" stroke-width="0.22" transform="translate(236.05 226.7) scale(0.96 1)">21</text>
<text x="0" y="0" text-anchor="middle" font-size="8.4" fill="#1a1a1a" stroke="#1a1a1a" stroke-width="0.22" transform="translate(251.84 226.7) scale(0.96 1)">28</text>
<text x="0" y="0" text-anchor="middle" font-size="9.6" fill="#1a1a1a" stroke="#1a1a1a" stroke-width="0.34" transform="translate(217.56 239.8) scale(0.77 1)">Day</text>
<text x="0" y="0" text-anchor="middle" font-size="9.0" fill="#1a1a1a" stroke="#1a1a1a" stroke-width="0.34" transform="translate(152.2 172.5) rotate(-90) scale(0.833 1)">IL-5, pg/mL</text>
</g>
<g>
<path d="M310.08 191.9V173.3M308.38 173.3H311.78" stroke="#98cc80" stroke-width="1.0" fill="none"/>
<path d="M310.08 191.9V205M308.38 205H311.78" stroke="#98cc80" stroke-width="1.0" fill="none"/>
<path d="M319.1 194.3V162.2M317.4 162.2H320.8" stroke="#98cc80" stroke-width="1.0" fill="none"/>
<path d="M319.1 194.3V207M317.4 207H320.8" stroke="#98cc80" stroke-width="1.0" fill="none"/>
<path d="M325.87 187.2V157.5M324.17 157.5H327.56" stroke="#98cc80" stroke-width="1.0" fill="none"/>
<path d="M325.87 187.2V200M324.17 200H327.56" stroke="#98cc80" stroke-width="1.0" fill="none"/>
<path d="M334.89 172.8V148.3M333.19 148.3H336.59" stroke="#98cc80" stroke-width="1.0" fill="none"/>
<path d="M334.89 172.8V183M333.19 183H336.59" stroke="#98cc80" stroke-width="1.0" fill="none"/>
<path d="M350.67 177.5V150.4M348.97 150.4H352.37" stroke="#98cc80" stroke-width="1.0" fill="none"/>
<path d="M382.24 188V179.6M380.54 179.6H383.94" stroke="#98cc80" stroke-width="1.0" fill="none"/>
<path d="M310.08 205.4V210M308.38 210H311.78" stroke="#f4c478" stroke-width="1.0" fill="none"/>
<path d="M319.1 206.5V210M317.4 210H320.8" stroke="#f4c478" stroke-width="1.0" fill="none"/>
<path d="M325.87 201V210M324.17 210H327.56" stroke="#f4c478" stroke-width="1.0" fill="none"/>
<path d="M310.08 202.5V195M308.38 195H311.78" stroke="#d57892" stroke-width="1.0" fill="none"/>
<path d="M310.08 202.5V207M308.38 207H311.78" stroke="#d57892" stroke-width="1.0" fill="none"/>
<path d="M319.1 203.8V185.9M317.4 185.9H320.8" stroke="#d57892" stroke-width="1.0" fill="none"/>
<path d="M319.1 203.8V207M317.4 207H320.8" stroke="#d57892" stroke-width="1.0" fill="none"/>
<path d="M325.87 197.5V191.5M324.17 191.5H327.56" stroke="#d57892" stroke-width="1.0" fill="none"/>
<path d="M325.87 197.5V204M324.17 204H327.56" stroke="#d57892" stroke-width="1.0" fill="none"/>
<path d="M334.89 168.5V144.4M333.19 144.4H336.59" stroke="#d57892" stroke-width="1.0" fill="none"/>
<path d="M334.89 168.5V183M333.19 183H336.59" stroke="#d57892" stroke-width="1.0" fill="none"/>
<path d="M350.67 197.5V206.5M348.97 206.5H352.37" stroke="#d57892" stroke-width="1.0" fill="none"/>
<path d="M382.24 202.5V210M380.54 210H383.94" stroke="#d57892" stroke-width="1.0" fill="none"/>
<path d="M310.08 201.7V185.1M308.38 185.1H311.78" stroke="#7891c8" stroke-width="1.0" fill="none"/>
<path d="M310.08 201.7V209M308.38 209H311.78" stroke="#7891c8" stroke-width="1.0" fill="none"/>
<path d="M319.1 203.3V199M317.4 199H320.8" stroke="#7891c8" stroke-width="1.0" fill="none"/>
<path d="M319.1 203.3V210M317.4 210H320.8" stroke="#7891c8" stroke-width="1.0" fill="none"/>
<path d="M325.87 201.7V193M324.17 193H327.56" stroke="#7891c8" stroke-width="1.0" fill="none"/>
<path d="M325.87 201.7V208M324.17 208H327.56" stroke="#7891c8" stroke-width="1.0" fill="none"/>
<path d="M334.89 198.1V163M333.19 163H336.59" stroke="#7891c8" stroke-width="1.0" fill="none"/>
<path d="M334.89 198.1V202M333.19 202H336.59" stroke="#7891c8" stroke-width="1.0" fill="none"/>
<path d="M350.67 191.8V182.3M348.97 182.3H352.37" stroke="#7891c8" stroke-width="1.0" fill="none"/>
<path d="M350.67 191.8V200M348.97 200H352.37" stroke="#7891c8" stroke-width="1.0" fill="none"/>
<path d="M382.24 196.7V193M380.54 193H383.94" stroke="#7891c8" stroke-width="1.0" fill="none"/>
<path d="M382.24 196.7V200M380.54 200H383.94" stroke="#7891c8" stroke-width="1.0" fill="none"/>
<path d="M310.08 191.9L319.1 194.3L325.87 187.2L334.89 172.8L350.67 177.5L382.24 188" stroke="#62ad44" stroke-width="0.8" fill="none"/>
<path d="M310.08 205.4L319.1 206.5L325.87 201L334.89 193.8L350.67 195.9L382.24 206" stroke="#f0a232" stroke-width="0.8" fill="none"/>
<path d="M310.08 202.5L319.1 203.8L325.87 197.5L334.89 168.5L350.67 197.5L382.24 202.5" stroke="#c0224f" stroke-width="0.8" fill="none"/>
<path d="M310.08 201.7L319.1 203.3L325.87 201.7L334.89 198.1L350.67 191.8L382.24 196.7" stroke="#34599f" stroke-width="0.8" fill="none"/>
<circle cx="310.08" cy="191.9" r="1.85" fill="#4a9a2a"/>
<circle cx="319.1" cy="194.3" r="1.85" fill="#4a9a2a"/>
<circle cx="325.87" cy="187.2" r="1.85" fill="#4a9a2a"/>
<circle cx="334.89" cy="172.8" r="1.85" fill="#4a9a2a"/>
<circle cx="350.67" cy="177.5" r="1.85" fill="#4a9a2a"/>
<circle cx="382.24" cy="188" r="1.85" fill="#4a9a2a"/>
<path d="M308.08 207L312.08 207L310.08 203.5Z" fill="#ef9b1c"/>
<path d="M317.1 208.1L321.1 208.1L319.1 204.6Z" fill="#ef9b1c"/>
<path d="M323.87 202.6L327.87 202.6L325.87 199.1Z" fill="#ef9b1c"/>
<path d="M332.89 195.4L336.89 195.4L334.89 191.9Z" fill="#ef9b1c"/>
<path d="M348.67 197.5L352.67 197.5L350.67 194Z" fill="#ef9b1c"/>
<path d="M380.24 207.6L384.24 207.6L382.24 204.1Z" fill="#ef9b1c"/>
<path d="M308.08 200.9L312.08 200.9L310.08 204.4Z" fill="#aa1442"/>
<path d="M317.1 202.2L321.1 202.2L319.1 205.7Z" fill="#aa1442"/>
<path d="M323.87 195.9L327.87 195.9L325.87 199.4Z" fill="#aa1442"/>
<path d="M332.89 166.9L336.89 166.9L334.89 170.4Z" fill="#aa1442"/>
<path d="M348.67 195.9L352.67 195.9L350.67 199.4Z" fill="#aa1442"/>
<path d="M380.24 200.9L384.24 200.9L382.24 204.4Z" fill="#aa1442"/>
<rect x="308.28" y="199.9" width="3.6" height="3.6" fill="#1b3a82"/>
<rect x="317.3" y="201.5" width="3.6" height="3.6" fill="#1b3a82"/>
<rect x="324.06" y="199.9" width="3.6" height="3.6" fill="#1b3a82"/>
<rect x="333.09" y="196.3" width="3.6" height="3.6" fill="#1b3a82"/>
<rect x="348.87" y="190" width="3.6" height="3.6" fill="#1b3a82"/>
<rect x="380.44" y="194.9" width="3.6" height="3.6" fill="#1b3a82"/>
<path d="M307.6 131.9V213.7M304.4 213.7H386.54" stroke="#111" stroke-width="1.15" fill="none"/>
<path d="M310.08 213.7v2.6M319.1 213.7v2.6M334.89 213.7v2.6M350.67 213.7v2.6M366.46 213.7v2.6M382.24 213.7v2.6" stroke="#111" stroke-width="0.9" fill="none"/>
<path d="M304.4 213.7H307.6M305.7 210.54H307.6M305.7 207.39H307.6M305.7 204.23H307.6M305.7 201.08H307.6M304.4 197.92H307.6M305.7 194.76H307.6M305.7 191.61H307.6M305.7 188.45H307.6M305.7 185.3H307.6M304.4 182.14H307.6M305.7 178.98H307.6M305.7 175.83H307.6M305.7 172.67H307.6M305.7 169.52H307.6M304.4 166.36H307.6M305.7 163.2H307.6M305.7 160.05H307.6M305.7 156.89H307.6M305.7 153.74H307.6M304.4 150.58H307.6M305.7 147.42H307.6M305.7 144.27H307.6M305.7 141.11H307.6M305.7 137.96H307.6M304.4 134.8H307.6" stroke="#111" stroke-width="0.9" fill="none"/>
<text x="0" y="0" text-anchor="end" font-size="8.4" fill="#1a1a1a" stroke="#1a1a1a" stroke-width="0.22" transform="translate(301.4 216.6) scale(0.96 1)">0</text>
<text x="0" y="0" text-anchor="end" font-size="8.4" fill="#1a1a1a" stroke="#1a1a1a" stroke-width="0.22" transform="translate(301.4 200.82) scale(0.96 1)">5000</text>
<text x="0" y="0" text-anchor="end" font-size="8.4" fill="#1a1a1a" stroke="#1a1a1a" stroke-width="0.22" transform="translate(301.4 185.04) scale(0.96 1)">10000</text>
<text x="0" y="0" text-anchor="end" font-size="8.4" fill="#1a1a1a" stroke="#1a1a1a" stroke-width="0.22" transform="translate(301.4 169.26) scale(0.96 1)">15000</text>
<text x="0" y="0" text-anchor="end" font-size="8.4" fill="#1a1a1a" stroke="#1a1a1a" stroke-width="0.22" transform="translate(301.4 153.48) scale(0.96 1)">20000</text>
<text x="0" y="0" text-anchor="end" font-size="8.4" fill="#1a1a1a" stroke="#1a1a1a" stroke-width="0.22" transform="translate(301.4 137.7) scale(0.96 1)">25000</text>
<text x="0" y="0" text-anchor="middle" font-size="8.4" fill="#1a1a1a" stroke="#1a1a1a" stroke-width="0.22" transform="translate(310.08 226.7) scale(0.96 1)">BL</text>
<text x="0" y="0" text-anchor="middle" font-size="8.4" fill="#1a1a1a" stroke="#1a1a1a" stroke-width="0.22" transform="translate(319.1 226.7) scale(0.96 1)">0</text>
<text x="0" y="0" text-anchor="middle" font-size="8.4" fill="#1a1a1a" stroke="#1a1a1a" stroke-width="0.22" transform="translate(334.89 226.7) scale(0.96 1)">7</text>
<text x="0" y="0" text-anchor="middle" font-size="8.4" fill="#1a1a1a" stroke="#1a1a1a" stroke-width="0.22" transform="translate(350.67 226.7) scale(0.96 1)">14</text>
<text x="0" y="0" text-anchor="middle" font-size="8.4" fill="#1a1a1a" stroke="#1a1a1a" stroke-width="0.22" transform="translate(366.46 226.7) scale(0.96 1)">21</text>
<text x="0" y="0" text-anchor="middle" font-size="8.4" fill="#1a1a1a" stroke="#1a1a1a" stroke-width="0.22" transform="translate(382.24 226.7) scale(0.96 1)">28</text>
<text x="0" y="0" text-anchor="middle" font-size="9.6" fill="#1a1a1a" stroke="#1a1a1a" stroke-width="0.34" transform="translate(347.96 239.8) scale(0.77 1)">Day</text>
<text x="0" y="0" text-anchor="middle" font-size="9.0" fill="#1a1a1a" stroke="#1a1a1a" stroke-width="0.34" transform="translate(273.2 171.3) rotate(-90) scale(0.844 1)">Ferritin, pg/mL</text>
</g>
<g>
<path d="M445.2 201.7V197.8M443.5 197.8H446.9" stroke="#98cc80" stroke-width="1.0" fill="none"/>
<path d="M451.96 189.6V161.9M450.26 161.9H453.66" stroke="#98cc80" stroke-width="1.0" fill="none"/>
<path d="M460.99 192.6V183.6M459.29 183.6H462.69" stroke="#98cc80" stroke-width="1.0" fill="none"/>
<path d="M476.77 204.9V197M475.07 197H478.47" stroke="#98cc80" stroke-width="1.0" fill="none"/>
<path d="M508.34 199.4V198M506.64 198H510.04" stroke="#98cc80" stroke-width="1.0" fill="none"/>
<path d="M460.99 204.9V210M459.29 210H462.69" stroke="#f4c478" stroke-width="1.0" fill="none"/>
<path d="M436.18 206.5V202.5M434.48 202.5H437.88" stroke="#d57892" stroke-width="1.0" fill="none"/>
<path d="M451.96 204.4V199M450.26 199H453.66" stroke="#d57892" stroke-width="1.0" fill="none"/>
<path d="M460.99 164.3V150.7M459.29 150.7H462.69" stroke="#d57892" stroke-width="1.0" fill="none"/>
<path d="M460.99 164.3V180M459.29 180H462.69" stroke="#d57892" stroke-width="1.0" fill="none"/>
<path d="M508.34 207.2V203M506.64 203H510.04" stroke="#d57892" stroke-width="1.0" fill="none"/>
<path d="M460.99 203.8V180.4M459.29 180.4H462.69" stroke="#7891c8" stroke-width="1.0" fill="none"/>
<path d="M436.18 207L445.2 201.7L451.96 189.6L460.99 192.6L476.77 204.9L508.34 199.4" stroke="#62ad44" stroke-width="0.8" fill="none"/>
<path d="M436.18 210.1L445.2 209.1L451.96 208.5L460.99 204.9L476.77 209.6L508.34 210.4" stroke="#f0a232" stroke-width="0.8" fill="none"/>
<path d="M436.18 206.5L445.2 205.4L451.96 204.4L460.99 164.3L476.77 206L508.34 207.2" stroke="#c0224f" stroke-width="0.8" fill="none"/>
<path d="M436.18 207.6L445.2 207.6L451.96 208.5L460.99 203.8L476.77 205.7L508.34 207.2" stroke="#34599f" stroke-width="0.8" fill="none"/>
<circle cx="436.18" cy="207" r="1.85" fill="#4a9a2a"/>
<circle cx="445.2" cy="201.7" r="1.85" fill="#4a9a2a"/>
<circle cx="451.96" cy="189.6" r="1.85" fill="#4a9a2a"/>
<circle cx="460.99" cy="192.6" r="1.85" fill="#4a9a2a"/>
<circle cx="476.77" cy="204.9" r="1.85" fill="#4a9a2a"/>
<circle cx="508.34" cy="199.4" r="1.85" fill="#4a9a2a"/>
<path d="M434.18 211.7L438.18 211.7L436.18 208.2Z" fill="#ef9b1c"/>
<path d="M443.2 210.7L447.2 210.7L445.2 207.2Z" fill="#ef9b1c"/>
<path d="M449.96 210.1L453.96 210.1L451.96 206.6Z" fill="#ef9b1c"/>
<path d="M458.99 206.5L462.99 206.5L460.99 203Z" fill="#ef9b1c"/>
<path d="M474.77 211.2L478.77 211.2L476.77 207.7Z" fill="#ef9b1c"/>
<path d="M506.34 212L510.34 212L508.34 208.5Z" fill="#ef9b1c"/>
<path d="M434.18 204.9L438.18 204.9L436.18 208.4Z" fill="#aa1442"/>
<path d="M443.2 203.8L447.2 203.8L445.2 207.3Z" fill="#aa1442"/>
<path d="M449.96 202.8L453.96 202.8L451.96 206.3Z" fill="#aa1442"/>
<path d="M458.99 162.7L462.99 162.7L460.99 166.2Z" fill="#aa1442"/>
<path d="M474.77 204.4L478.77 204.4L476.77 207.9Z" fill="#aa1442"/>
<path d="M506.34 205.6L510.34 205.6L508.34 209.1Z" fill="#aa1442"/>
<rect x="434.38" y="205.8" width="3.6" height="3.6" fill="#1b3a82"/>
<rect x="443.4" y="205.8" width="3.6" height="3.6" fill="#1b3a82"/>
<rect x="450.16" y="206.7" width="3.6" height="3.6" fill="#1b3a82"/>
<rect x="459.19" y="202" width="3.6" height="3.6" fill="#1b3a82"/>
<rect x="474.97" y="203.9" width="3.6" height="3.6" fill="#1b3a82"/>
<rect x="506.54" y="205.4" width="3.6" height="3.6" fill="#1b3a82"/>
<path d="M433.9 131.9V213.7M430.7 213.7H512.64" stroke="#111" stroke-width="1.15" fill="none"/>
<path d="M436.18 213.7v2.6M445.2 213.7v2.6M460.99 213.7v2.6M476.77 213.7v2.6M492.56 213.7v2.6M508.34 213.7v2.6" stroke="#111" stroke-width="0.9" fill="none"/>
<path d="M430.7 213.7H433.9M432 210.54H433.9M432 207.39H433.9M432 204.23H433.9M432 201.08H433.9M430.7 197.92H433.9M432 194.76H433.9M432 191.61H433.9M432 188.45H433.9M432 185.3H433.9M430.7 182.14H433.9M432 178.98H433.9M432 175.83H433.9M432 172.67H433.9M432 169.52H433.9M430.7 166.36H433.9M432 163.2H433.9M432 160.05H433.9M432 156.89H433.9M432 153.74H433.9M430.7 150.58H433.9M432 147.42H433.9M432 144.27H433.9M432 141.11H433.9M432 137.96H433.9M430.7 134.8H433.9" stroke="#111" stroke-width="0.9" fill="none"/>
<text x="0" y="0" text-anchor="end" font-size="8.4" fill="#1a1a1a" stroke="#1a1a1a" stroke-width="0.22" transform="translate(427.7 216.6) scale(0.96 1)">0</text>
<text x="0" y="0" text-anchor="end" font-size="8.4" fill="#1a1a1a" stroke="#1a1a1a" stroke-width="0.22" transform="translate(427.7 200.82) scale(0.96 1)">1000</text>
<text x="0" y="0" text-anchor="end" font-size="8.4" fill="#1a1a1a" stroke="#1a1a1a" stroke-width="0.22" transform="translate(427.7 185.04) scale(0.96 1)">2000</text>
<text x="0" y="0" text-anchor="end" font-size="8.4" fill="#1a1a1a" stroke="#1a1a1a" stroke-width="0.22" transform="translate(427.7 169.26) scale(0.96 1)">3000</text>
<text x="0" y="0" text-anchor="end" font-size="8.4" fill="#1a1a1a" stroke="#1a1a1a" stroke-width="0.22" transform="translate(427.7 153.48) scale(0.96 1)">4000</text>
<text x="0" y="0" text-anchor="end" font-size="8.4" fill="#1a1a1a" stroke="#1a1a1a" stroke-width="0.22" transform="translate(427.7 137.7) scale(0.96 1)">5000</text>
<text x="0" y="0" text-anchor="middle" font-size="8.4" fill="#1a1a1a" stroke="#1a1a1a" stroke-width="0.22" transform="translate(436.18 226.7) scale(0.96 1)">BL</text>
<text x="0" y="0" text-anchor="middle" font-size="8.4" fill="#1a1a1a" stroke="#1a1a1a" stroke-width="0.22" transform="translate(445.2 226.7) scale(0.96 1)">0</text>
<text x="0" y="0" text-anchor="middle" font-size="8.4" fill="#1a1a1a" stroke="#1a1a1a" stroke-width="0.22" transform="translate(460.99 226.7) scale(0.96 1)">7</text>
<text x="0" y="0" text-anchor="middle" font-size="8.4" fill="#1a1a1a" stroke="#1a1a1a" stroke-width="0.22" transform="translate(476.77 226.7) scale(0.96 1)">14</text>
<text x="0" y="0" text-anchor="middle" font-size="8.4" fill="#1a1a1a" stroke="#1a1a1a" stroke-width="0.22" transform="translate(492.56 226.7) scale(0.96 1)">21</text>
<text x="0" y="0" text-anchor="middle" font-size="8.4" fill="#1a1a1a" stroke="#1a1a1a" stroke-width="0.22" transform="translate(508.34 226.7) scale(0.96 1)">28</text>
<text x="0" y="0" text-anchor="middle" font-size="9.6" fill="#1a1a1a" stroke="#1a1a1a" stroke-width="0.34" transform="translate(474.06 239.8) scale(0.77 1)">Day</text>
<text x="0" y="0" text-anchor="middle" font-size="9.0" fill="#1a1a1a" stroke="#1a1a1a" stroke-width="0.34" transform="translate(403.8 172.1) rotate(-90) scale(0.797 1)">IL-1RA, pg/mL</text>
</g>
<g>
<path d="M53.58 323.5V306.1M51.88 306.1H55.28" stroke="#98cc80" stroke-width="1.0" fill="none"/>
<path d="M69.36 318V307.4M67.66 307.4H71.06" stroke="#98cc80" stroke-width="1.0" fill="none"/>
<path d="M78.39 305.3V292.7M76.69 292.7H80.09" stroke="#98cc80" stroke-width="1.0" fill="none"/>
<path d="M53.58 324.3V310.1M51.88 310.1H55.28" stroke="#d57892" stroke-width="1.0" fill="none"/>
<path d="M62.6 325V318M60.9 318H64.3" stroke="#d57892" stroke-width="1.0" fill="none"/>
<path d="M78.39 310.9V276.1M76.69 276.1H80.09" stroke="#d57892" stroke-width="1.0" fill="none"/>
<path d="M78.39 310.9V318M76.69 318H80.09" stroke="#d57892" stroke-width="1.0" fill="none"/>
<path d="M94.17 321.1V326.7M92.47 326.7H95.87" stroke="#d57892" stroke-width="1.0" fill="none"/>
<path d="M78.39 306.9V280.1M76.69 280.1H80.09" stroke="#f4c478" stroke-width="1.0" fill="none"/>
<path d="M94.17 317.2V292.2M92.47 292.2H95.87" stroke="#f4c478" stroke-width="1.0" fill="none"/>
<path d="M53.58 325.9V319.1M51.88 319.1H55.28" stroke="#7891c8" stroke-width="1.0" fill="none"/>
<path d="M78.39 309V297.4M76.69 297.4H80.09" stroke="#7891c8" stroke-width="1.0" fill="none"/>
<path d="M78.39 309V323.2M76.69 323.2H80.09" stroke="#7891c8" stroke-width="1.0" fill="none"/>
<path d="M94.17 314.8V299.5M92.47 299.5H95.87" stroke="#7891c8" stroke-width="1.0" fill="none"/>
<path d="M125.74 323.8V319.1M124.04 319.1H127.44" stroke="#7891c8" stroke-width="1.0" fill="none"/>
<path d="M53.58 323.5L62.6 325.5L69.36 318L78.39 305.3L94.17 319.1L125.74 327.9" stroke="#62ad44" stroke-width="0.8" fill="none"/>
<path d="M53.58 324.3L62.6 325L69.36 326L78.39 310.9L94.17 321.1L125.74 330.6" stroke="#c0224f" stroke-width="0.8" fill="none"/>
<path d="M53.58 325L62.6 326L69.36 326L78.39 306.9L94.17 317.2L125.74 326.7" stroke="#f0a232" stroke-width="0.8" fill="none"/>
<path d="M53.58 325.9L62.6 326.2L69.36 326.4L78.39 309L94.17 314.8L125.74 323.8" stroke="#34599f" stroke-width="0.8" fill="none"/>
<circle cx="53.58" cy="323.5" r="1.85" fill="#4a9a2a"/>
<circle cx="62.6" cy="325.5" r="1.85" fill="#4a9a2a"/>
<circle cx="69.36" cy="318" r="1.85" fill="#4a9a2a"/>
<circle cx="78.39" cy="305.3" r="1.85" fill="#4a9a2a"/>
<circle cx="94.17" cy="319.1" r="1.85" fill="#4a9a2a"/>
<circle cx="125.74" cy="327.9" r="1.85" fill="#4a9a2a"/>
<path d="M51.58 322.7L55.58 322.7L53.58 326.2Z" fill="#aa1442"/>
<path d="M60.6 323.4L64.6 323.4L62.6 326.9Z" fill="#aa1442"/>
<path d="M67.36 324.4L71.36 324.4L69.36 327.9Z" fill="#aa1442"/>
<path d="M76.39 309.3L80.39 309.3L78.39 312.8Z" fill="#aa1442"/>
<path d="M92.17 319.5L96.17 319.5L94.17 323Z" fill="#aa1442"/>
<path d="M123.74 329L127.74 329L125.74 332.5Z" fill="#aa1442"/>
<path d="M51.58 326.6L55.58 326.6L53.58 323.1Z" fill="#ef9b1c"/>
<path d="M60.6 327.6L64.6 327.6L62.6 324.1Z" fill="#ef9b1c"/>
<path d="M67.36 327.6L71.36 327.6L69.36 324.1Z" fill="#ef9b1c"/>
<path d="M76.39 308.5L80.39 308.5L78.39 305Z" fill="#ef9b1c"/>
<path d="M92.17 318.8L96.17 318.8L94.17 315.3Z" fill="#ef9b1c"/>
<path d="M123.74 328.3L127.74 328.3L125.74 324.8Z" fill="#ef9b1c"/>
<rect x="51.78" y="324.1" width="3.6" height="3.6" fill="#1b3a82"/>
<rect x="60.8" y="324.4" width="3.6" height="3.6" fill="#1b3a82"/>
<rect x="67.56" y="324.6" width="3.6" height="3.6" fill="#1b3a82"/>
<rect x="76.59" y="307.2" width="3.6" height="3.6" fill="#1b3a82"/>
<rect x="92.37" y="313" width="3.6" height="3.6" fill="#1b3a82"/>
<rect x="123.94" y="322" width="3.6" height="3.6" fill="#1b3a82"/>
<path d="M51.5 252V334.5M48.3 334.5H130.04" stroke="#111" stroke-width="1.15" fill="none"/>
<path d="M53.58 334.5v2.6M62.6 334.5v2.6M78.39 334.5v2.6M94.17 334.5v2.6M109.95 334.5v2.6M125.74 334.5v2.6" stroke="#111" stroke-width="0.9" fill="none"/>
<path d="M48.3 334.5H51.5M49.6 330.52H51.5M49.6 326.54H51.5M49.6 322.56H51.5M49.6 318.58H51.5M48.3 314.6H51.5M49.6 310.62H51.5M49.6 306.64H51.5M49.6 302.66H51.5M49.6 298.68H51.5M48.3 294.7H51.5M49.6 290.72H51.5M49.6 286.74H51.5M49.6 282.76H51.5M49.6 278.78H51.5M48.3 274.8H51.5M49.6 270.82H51.5M49.6 266.84H51.5M49.6 262.86H51.5M49.6 258.88H51.5M48.3 254.9H51.5" stroke="#111" stroke-width="0.9" fill="none"/>
<text x="0" y="0" text-anchor="end" font-size="8.4" fill="#1a1a1a" stroke="#1a1a1a" stroke-width="0.22" transform="translate(45.3 337.4) scale(0.96 1)">0</text>
<text x="0" y="0" text-anchor="end" font-size="8.4" fill="#1a1a1a" stroke="#1a1a1a" stroke-width="0.22" transform="translate(45.3 317.5) scale(0.96 1)">10000</text>
<text x="0" y="0" text-anchor="end" font-size="8.4" fill="#1a1a1a" stroke="#1a1a1a" stroke-width="0.22" transform="translate(45.3 297.6) scale(0.96 1)">20000</text>
<text x="0" y="0" text-anchor="end" font-size="8.4" fill="#1a1a1a" stroke="#1a1a1a" stroke-width="0.22" transform="translate(45.3 277.7) scale(0.96 1)">30000</text>
<text x="0" y="0" text-anchor="end" font-size="8.4" fill="#1a1a1a" stroke="#1a1a1a" stroke-width="0.22" transform="translate(45.3 257.8) scale(0.96 1)">40000</text>
<text x="0" y="0" text-anchor="middle" font-size="8.4" fill="#1a1a1a" stroke="#1a1a1a" stroke-width="0.22" transform="translate(53.58 347.5) scale(0.96 1)">BL</text>
<text x="0" y="0" text-anchor="middle" font-size="8.4" fill="#1a1a1a" stroke="#1a1a1a" stroke-width="0.22" transform="translate(62.6 347.5) scale(0.96 1)">0</text>
<text x="0" y="0" text-anchor="middle" font-size="8.4" fill="#1a1a1a" stroke="#1a1a1a" stroke-width="0.22" transform="translate(78.39 347.5) scale(0.96 1)">7</text>
<text x="0" y="0" text-anchor="middle" font-size="8.4" fill="#1a1a1a" stroke="#1a1a1a" stroke-width="0.22" transform="translate(94.17 347.5) scale(0.96 1)">14</text>
<text x="0" y="0" text-anchor="middle" font-size="8.4" fill="#1a1a1a" stroke="#1a1a1a" stroke-width="0.22" transform="translate(109.95 347.5) scale(0.96 1)">21</text>
<text x="0" y="0" text-anchor="middle" font-size="8.4" fill="#1a1a1a" stroke="#1a1a1a" stroke-width="0.22" transform="translate(125.74 347.5) scale(0.96 1)">28</text>
<text x="0" y="0" text-anchor="middle" font-size="9.6" fill="#1a1a1a" stroke="#1a1a1a" stroke-width="0.34" transform="translate(91.46 360) scale(0.77 1)">Day</text>
<text x="0" y="0" text-anchor="middle" font-size="9.0" fill="#1a1a1a" stroke="#1a1a1a" stroke-width="0.34" transform="translate(17.5 293.3) rotate(-90) scale(0.859 1)">IL-2Rα, pg/mL</text>
</g>
<g>
<path d="M195.46 333.5V302.7M193.76 302.7H197.16" stroke="#98cc80" stroke-width="1.0" fill="none"/>
<path d="M204.48 325.4V316.4M202.78 316.4H206.18" stroke="#98cc80" stroke-width="1.0" fill="none"/>
<path d="M204.48 333V326M202.78 326H206.18" stroke="#7891c8" stroke-width="1.0" fill="none"/>
<path d="M179.68 333.5L188.7 333.5L195.46 333.5L204.48 325.4L220.27 333.5L251.84 333.5" stroke="#62ad44" stroke-width="0.8" fill="none"/>
<path d="M179.68 333L188.7 333L195.46 333L204.48 333L220.27 333L251.84 333" stroke="#34599f" stroke-width="0.8" fill="none"/>
<circle cx="179.68" cy="333.5" r="1.85" fill="#4a9a2a"/>
<circle cx="188.7" cy="333.5" r="1.85" fill="#4a9a2a"/>
<circle cx="195.46" cy="333.5" r="1.85" fill="#4a9a2a"/>
<circle cx="204.48" cy="325.4" r="1.85" fill="#4a9a2a"/>
<circle cx="220.27" cy="333.5" r="1.85" fill="#4a9a2a"/>
<circle cx="251.84" cy="333.5" r="1.85" fill="#4a9a2a"/>
<rect x="177.88" y="331.2" width="3.6" height="3.6" fill="#1b3a82"/>
<rect x="186.9" y="331.2" width="3.6" height="3.6" fill="#1b3a82"/>
<rect x="193.66" y="331.2" width="3.6" height="3.6" fill="#1b3a82"/>
<rect x="202.68" y="331.2" width="3.6" height="3.6" fill="#1b3a82"/>
<rect x="218.47" y="331.2" width="3.6" height="3.6" fill="#1b3a82"/>
<rect x="250.04" y="331.2" width="3.6" height="3.6" fill="#1b3a82"/>
<path d="M177.2 252V334.5M174 334.5H256.14" stroke="#111" stroke-width="1.15" fill="none"/>
<path d="M179.68 334.5v2.6M188.7 334.5v2.6M204.48 334.5v2.6M220.27 334.5v2.6M236.05 334.5v2.6M251.84 334.5v2.6" stroke="#111" stroke-width="0.9" fill="none"/>
<path d="M174 334.5H177.2M175.3 332.91H177.2M175.3 331.32H177.2M175.3 329.72H177.2M175.3 328.13H177.2M175.3 326.54H177.2M175.3 324.95H177.2M175.3 323.36H177.2M175.3 321.76H177.2M175.3 320.17H177.2M174 318.58H177.2M175.3 316.99H177.2M175.3 315.4H177.2M175.3 313.8H177.2M175.3 312.21H177.2M175.3 310.62H177.2M175.3 309.03H177.2M175.3 307.44H177.2M175.3 305.84H177.2M175.3 304.25H177.2M174 302.66H177.2M175.3 301.07H177.2M175.3 299.48H177.2M175.3 297.88H177.2M175.3 296.29H177.2M175.3 294.7H177.2M175.3 293.11H177.2M175.3 291.52H177.2M175.3 289.92H177.2M175.3 288.33H177.2M174 286.74H177.2M175.3 285.15H177.2M175.3 283.56H177.2M175.3 281.96H177.2M175.3 280.37H177.2M175.3 278.78H177.2M175.3 277.19H177.2M175.3 275.6H177.2M175.3 274H177.2M175.3 272.41H177.2M174 270.82H177.2M175.3 269.23H177.2M175.3 267.64H177.2M175.3 266.04H177.2M175.3 264.45H177.2M175.3 262.86H177.2M175.3 261.27H177.2M175.3 259.68H177.2M175.3 258.08H177.2M175.3 256.49H177.2M174 254.9H177.2" stroke="#111" stroke-width="0.9" fill="none"/>
<text x="0" y="0" text-anchor="end" font-size="8.4" fill="#1a1a1a" stroke="#1a1a1a" stroke-width="0.22" transform="translate(171 337.4) scale(0.96 1)">0</text>
<text x="0" y="0" text-anchor="end" font-size="8.4" fill="#1a1a1a" stroke="#1a1a1a" stroke-width="0.22" transform="translate(171 321.48) scale(0.96 1)">20</text>
<text x="0" y="0" text-anchor="end" font-size="8.4" fill="#1a1a1a" stroke="#1a1a1a" stroke-width="0.22" transform="translate(171 305.56) scale(0.96 1)">40</text>
<text x="0" y="0" text-anchor="end" font-size="8.4" fill="#1a1a1a" stroke="#1a1a1a" stroke-width="0.22" transform="translate(171 289.64) scale(0.96 1)">60</text>
<text x="0" y="0" text-anchor="end" font-size="8.4" fill="#1a1a1a" stroke="#1a1a1a" stroke-width="0.22" transform="translate(171 273.72) scale(0.96 1)">80</text>
<text x="0" y="0" text-anchor="end" font-size="8.4" fill="#1a1a1a" stroke="#1a1a1a" stroke-width="0.22" transform="translate(171 257.8) scale(0.96 1)">100</text>
<text x="0" y="0" text-anchor="middle" font-size="8.4" fill="#1a1a1a" stroke="#1a1a1a" stroke-width="0.22" transform="translate(179.68 347.5) scale(0.96 1)">BL</text>
<text x="0" y="0" text-anchor="middle" font-size="8.4" fill="#1a1a1a" stroke="#1a1a1a" stroke-width="0.22" transform="translate(188.7 347.5) scale(0.96 1)">0</text>
<text x="0" y="0" text-anchor="middle" font-size="8.4" fill="#1a1a1a" stroke="#1a1a1a" stroke-width="0.22" transform="translate(204.48 347.5) scale(0.96 1)">7</text>
<text x="0" y="0" text-anchor="middle" font-size="8.4" fill="#1a1a1a" stroke="#1a1a1a" stroke-width="0.22" transform="translate(220.27 347.5) scale(0.96 1)">14</text>
<text x="0" y="0" text-anchor="middle" font-size="8.4" fill="#1a1a1a" stroke="#1a1a1a" stroke-width="0.22" transform="translate(236.05 347.5) scale(0.96 1)">21</text>
<text x="0" y="0" text-anchor="middle" font-size="8.4" fill="#1a1a1a" stroke="#1a1a1a" stroke-width="0.22" transform="translate(251.84 347.5) scale(0.96 1)">28</text>
<text x="0" y="0" text-anchor="middle" font-size="9.6" fill="#1a1a1a" stroke="#1a1a1a" stroke-width="0.34" transform="translate(217.56 362.6) scale(0.77 1)">Day</text>
<text x="0" y="0" text-anchor="middle" font-size="9.0" fill="#1a1a1a" stroke="#1a1a1a" stroke-width="0.34" transform="translate(151.8 293.3) rotate(-90) scale(0.789 1)">GM-CSF, pg/mL</text>
</g>
<g>
<path d="M325.87 306.4V274.5M324.17 274.5H327.56" stroke="#98cc80" stroke-width="1.0" fill="none"/>
<path d="M325.87 332.2V323.5M324.17 323.5H327.56" stroke="#f4c478" stroke-width="1.0" fill="none"/>
<path d="M325.87 320.7V312.1M324.17 312.1H327.56" stroke="#d57892" stroke-width="1.0" fill="none"/>
<path d="M325.87 331.1V323.5M324.17 323.5H327.56" stroke="#a9badc" stroke-width="1.6" fill="none"/>
<path d="M334.89 325.4V260.3M333.19 260.3H336.59" stroke="#a9badc" stroke-width="1.6" fill="none"/>
<path d="M310.08 334L319.1 334L325.87 306.4L334.89 322.2L350.67 333.5L382.24 334" stroke="#62ad44" stroke-width="0.8" fill="none"/>
<path d="M310.08 334L319.1 334L325.87 332.2L334.89 332.2L350.67 334L382.24 334" stroke="#f0a232" stroke-width="0.8" fill="none"/>
<path d="M310.08 334L319.1 334L325.87 320.7L334.89 303.4L350.67 333.5L382.24 334" stroke="#c0224f" stroke-width="0.8" fill="none"/>
<path d="M310.08 333.3L319.1 333.5L325.87 331.1L334.89 325.4L350.67 333.5L382.24 333.8" stroke="#34599f" stroke-width="0.8" fill="none"/>
<circle cx="310.08" cy="334" r="1.85" fill="#4a9a2a"/>
<circle cx="319.1" cy="334" r="1.85" fill="#4a9a2a"/>
<circle cx="325.87" cy="306.4" r="1.85" fill="#4a9a2a"/>
<circle cx="334.89" cy="322.2" r="1.85" fill="#4a9a2a"/>
<circle cx="350.67" cy="333.5" r="1.85" fill="#4a9a2a"/>
<circle cx="382.24" cy="334" r="1.85" fill="#4a9a2a"/>
<path d="M308.08 335.6L312.08 335.6L310.08 332.1Z" fill="#ef9b1c"/>
<path d="M317.1 335.6L321.1 335.6L319.1 332.1Z" fill="#ef9b1c"/>
<path d="M323.87 333.8L327.87 333.8L325.87 330.3Z" fill="#ef9b1c"/>
<path d="M332.89 333.8L336.89 333.8L334.89 330.3Z" fill="#ef9b1c"/>
<path d="M348.67 335.6L352.67 335.6L350.67 332.1Z" fill="#ef9b1c"/>
<path d="M380.24 335.6L384.24 335.6L382.24 332.1Z" fill="#ef9b1c"/>
<path d="M308.08 332.4L312.08 332.4L310.08 335.9Z" fill="#aa1442"/>
<path d="M317.1 332.4L321.1 332.4L319.1 335.9Z" fill="#aa1442"/>
<path d="M323.87 319.1L327.87 319.1L325.87 322.6Z" fill="#aa1442"/>
<path d="M332.89 301.8L336.89 301.8L334.89 305.3Z" fill="#aa1442"/>
<path d="M348.67 331.9L352.67 331.9L350.67 335.4Z" fill="#aa1442"/>
<path d="M380.24 332.4L384.24 332.4L382.24 335.9Z" fill="#aa1442"/>
<rect x="308.28" y="331.5" width="3.6" height="3.6" fill="#1b3a82"/>
<rect x="317.3" y="331.7" width="3.6" height="3.6" fill="#1b3a82"/>
<rect x="324.06" y="329.3" width="3.6" height="3.6" fill="#1b3a82"/>
<rect x="333.09" y="323.6" width="3.6" height="3.6" fill="#1b3a82"/>
<rect x="348.87" y="331.7" width="3.6" height="3.6" fill="#1b3a82"/>
<rect x="380.44" y="332" width="3.6" height="3.6" fill="#1b3a82"/>
<path d="M307.6 252V334.5M304.4 334.5H386.54" stroke="#111" stroke-width="1.15" fill="none"/>
<path d="M310.08 334.5v2.6M319.1 334.5v2.6M334.89 334.5v2.6M350.67 334.5v2.6M366.46 334.5v2.6M382.24 334.5v2.6" stroke="#111" stroke-width="0.9" fill="none"/>
<path d="M304.4 334.5H307.6M305.7 330.52H307.6M305.7 326.54H307.6M305.7 322.56H307.6M305.7 318.58H307.6M304.4 314.6H307.6M305.7 310.62H307.6M305.7 306.64H307.6M305.7 302.66H307.6M305.7 298.68H307.6M304.4 294.7H307.6M305.7 290.72H307.6M305.7 286.74H307.6M305.7 282.76H307.6M305.7 278.78H307.6M304.4 274.8H307.6M305.7 270.82H307.6M305.7 266.84H307.6M305.7 262.86H307.6M305.7 258.88H307.6M304.4 254.9H307.6" stroke="#111" stroke-width="0.9" fill="none"/>
<text x="0" y="0" text-anchor="end" font-size="8.4" fill="#1a1a1a" stroke="#1a1a1a" stroke-width="0.22" transform="translate(301.4 337.4) scale(0.96 1)">0</text>
<text x="0" y="0" text-anchor="end" font-size="8.4" fill="#1a1a1a" stroke="#1a1a1a" stroke-width="0.22" transform="translate(301.4 317.5) scale(0.96 1)">500</text>
<text x="0" y="0" text-anchor="end" font-size="8.4" fill="#1a1a1a" stroke="#1a1a1a" stroke-width="0.22" transform="translate(301.4 297.6) scale(0.96 1)">1000</text>
<text x="0" y="0" text-anchor="end" font-size="8.4" fill="#1a1a1a" stroke="#1a1a1a" stroke-width="0.22" transform="translate(301.4 277.7) scale(0.96 1)">1500</text>
<text x="0" y="0" text-anchor="end" font-size="8.4" fill="#1a1a1a" stroke="#1a1a1a" stroke-width="0.22" transform="translate(301.4 257.8) scale(0.96 1)">2000</text>
<text x="0" y="0" text-anchor="middle" font-size="8.4" fill="#1a1a1a" stroke="#1a1a1a" stroke-width="0.22" transform="translate(310.08 347.5) scale(0.96 1)">BL</text>
<text x="0" y="0" text-anchor="middle" font-size="8.4" fill="#1a1a1a" stroke="#1a1a1a" stroke-width="0.22" transform="translate(319.1 347.5) scale(0.96 1)">0</text>
<text x="0" y="0" text-anchor="middle" font-size="8.4" fill="#1a1a1a" stroke="#1a1a1a" stroke-width="0.22" transform="translate(334.89 347.5) scale(0.96 1)">7</text>
<text x="0" y="0" text-anchor="middle" font-size="8.4" fill="#1a1a1a" stroke="#1a1a1a" stroke-width="0.22" transform="translate(350.67 347.5) scale(0.96 1)">14</text>
<text x="0" y="0" text-anchor="middle" font-size="8.4" fill="#1a1a1a" stroke="#1a1a1a" stroke-width="0.22" transform="translate(366.46 347.5) scale(0.96 1)">21</text>
<text x="0" y="0" text-anchor="middle" font-size="8.4" fill="#1a1a1a" stroke="#1a1a1a" stroke-width="0.22" transform="translate(382.24 347.5) scale(0.96 1)">28</text>
<text x="0" y="0" text-anchor="middle" font-size="9.6" fill="#1a1a1a" stroke="#1a1a1a" stroke-width="0.34" transform="translate(347.96 362.6) scale(0.77 1)">Day</text>
<text x="0" y="0" text-anchor="middle" font-size="9.0" fill="#1a1a1a" stroke="#1a1a1a" stroke-width="0.34" transform="translate(278.4 293.4) rotate(-90) scale(0.841 1)">IFNγ, pg/mL</text>
</g>
<g>
<path d="M451.96 331.4V325.9M450.26 325.9H453.66" stroke="#98cc80" stroke-width="1.0" fill="none"/>
<path d="M460.99 324.8V282.1M459.29 282.1H462.69" stroke="#d57892" stroke-width="1.0" fill="none"/>
<path d="M460.99 332.2V316.9M459.29 316.9H462.69" stroke="#7891c8" stroke-width="1.0" fill="none"/>
<path d="M436.18 334L445.2 334L451.96 331.4L460.99 327L476.77 334L508.34 334" stroke="#62ad44" stroke-width="0.8" fill="none"/>
<path d="M436.18 334L445.2 334L451.96 334L460.99 333.5L476.77 334L508.34 334" stroke="#f0a232" stroke-width="0.8" fill="none"/>
<path d="M436.18 334L445.2 334L451.96 333L460.99 324.8L476.77 333.8L508.34 334" stroke="#c0224f" stroke-width="0.8" fill="none"/>
<path d="M436.18 334L445.2 334L451.96 334L460.99 332.2L476.77 333.8L508.34 334" stroke="#34599f" stroke-width="0.8" fill="none"/>
<circle cx="436.18" cy="334" r="1.85" fill="#4a9a2a"/>
<circle cx="445.2" cy="334" r="1.85" fill="#4a9a2a"/>
<circle cx="451.96" cy="331.4" r="1.85" fill="#4a9a2a"/>
<circle cx="460.99" cy="327" r="1.85" fill="#4a9a2a"/>
<circle cx="476.77" cy="334" r="1.85" fill="#4a9a2a"/>
<circle cx="508.34" cy="334" r="1.85" fill="#4a9a2a"/>
<path d="M434.18 335.6L438.18 335.6L436.18 332.1Z" fill="#ef9b1c"/>
<path d="M443.2 335.6L447.2 335.6L445.2 332.1Z" fill="#ef9b1c"/>
<path d="M449.96 335.6L453.96 335.6L451.96 332.1Z" fill="#ef9b1c"/>
<path d="M458.99 335.1L462.99 335.1L460.99 331.6Z" fill="#ef9b1c"/>
<path d="M474.77 335.6L478.77 335.6L476.77 332.1Z" fill="#ef9b1c"/>
<path d="M506.34 335.6L510.34 335.6L508.34 332.1Z" fill="#ef9b1c"/>
<path d="M434.18 332.4L438.18 332.4L436.18 335.9Z" fill="#aa1442"/>
<path d="M443.2 332.4L447.2 332.4L445.2 335.9Z" fill="#aa1442"/>
<path d="M449.96 331.4L453.96 331.4L451.96 334.9Z" fill="#aa1442"/>
<path d="M458.99 323.2L462.99 323.2L460.99 326.7Z" fill="#aa1442"/>
<path d="M474.77 332.2L478.77 332.2L476.77 335.7Z" fill="#aa1442"/>
<path d="M506.34 332.4L510.34 332.4L508.34 335.9Z" fill="#aa1442"/>
<rect x="434.38" y="332.2" width="3.6" height="3.6" fill="#1b3a82"/>
<rect x="443.4" y="332.2" width="3.6" height="3.6" fill="#1b3a82"/>
<rect x="450.16" y="332.2" width="3.6" height="3.6" fill="#1b3a82"/>
<rect x="459.19" y="330.4" width="3.6" height="3.6" fill="#1b3a82"/>
<rect x="474.97" y="332" width="3.6" height="3.6" fill="#1b3a82"/>
<rect x="506.54" y="332.2" width="3.6" height="3.6" fill="#1b3a82"/>
<path d="M433.9 252V334.5M430.7 334.5H512.64" stroke="#111" stroke-width="1.15" fill="none"/>
<path d="M436.18 334.5v2.6M445.2 334.5v2.6M460.99 334.5v2.6M476.77 334.5v2.6M492.56 334.5v2.6M508.34 334.5v2.6" stroke="#111" stroke-width="0.9" fill="none"/>
<path d="M430.7 334.5H433.9M432 331.32H433.9M432 328.13H433.9M432 324.95H433.9M432 321.76H433.9M430.7 318.58H433.9M432 315.4H433.9M432 312.21H433.9M432 309.03H433.9M432 305.84H433.9M430.7 302.66H433.9M432 299.48H433.9M432 296.29H433.9M432 293.11H433.9M432 289.92H433.9M430.7 286.74H433.9M432 283.56H433.9M432 280.37H433.9M432 277.19H433.9M432 274H433.9M430.7 270.82H433.9M432 267.64H433.9M432 264.45H433.9M432 261.27H433.9M432 258.08H433.9M430.7 254.9H433.9" stroke="#111" stroke-width="0.9" fill="none"/>
<text x="0" y="0" text-anchor="end" font-size="8.4" fill="#1a1a1a" stroke="#1a1a1a" stroke-width="0.22" transform="translate(427.7 337.4) scale(0.96 1)">0</text>
<text x="0" y="0" text-anchor="end" font-size="8.4" fill="#1a1a1a" stroke="#1a1a1a" stroke-width="0.22" transform="translate(427.7 321.48) scale(0.96 1)">100</text>
<text x="0" y="0" text-anchor="end" font-size="8.4" fill="#1a1a1a" stroke="#1a1a1a" stroke-width="0.22" transform="translate(427.7 305.56) scale(0.96 1)">200</text>
<text x="0" y="0" text-anchor="end" font-size="8.4" fill="#1a1a1a" stroke="#1a1a1a" stroke-width="0.22" transform="translate(427.7 289.64) scale(0.96 1)">300</text>
<text x="0" y="0" text-anchor="end" font-size="8.4" fill="#1a1a1a" stroke="#1a1a1a" stroke-width="0.22" transform="translate(427.7 273.72) scale(0.96 1)">400</text>
<text x="0" y="0" text-anchor="end" font-size="8.4" fill="#1a1a1a" stroke="#1a1a1a" stroke-width="0.22" transform="translate(427.7 257.8) scale(0.96 1)">500</text>
<text x="0" y="0" text-anchor="middle" font-size="8.4" fill="#1a1a1a" stroke="#1a1a1a" stroke-width="0.22" transform="translate(436.18 347.5) scale(0.96 1)">BL</text>
<text x="0" y="0" text-anchor="middle" font-size="8.4" fill="#1a1a1a" stroke="#1a1a1a" stroke-width="0.22" transform="translate(445.2 347.5) scale(0.96 1)">0</text>
<text x="0" y="0" text-anchor="middle" font-size="8.4" fill="#1a1a1a" stroke="#1a1a1a" stroke-width="0.22" transform="translate(460.99 347.5) scale(0.96 1)">7</text>
<text x="0" y="0" text-anchor="middle" font-size="8.4" fill="#1a1a1a" stroke="#1a1a1a" stroke-width="0.22" transform="translate(476.77 347.5) scale(0.96 1)">14</text>
<text x="0" y="0" text-anchor="middle" font-size="8.4" fill="#1a1a1a" stroke="#1a1a1a" stroke-width="0.22" transform="translate(492.56 347.5) scale(0.96 1)">21</text>
<text x="0" y="0" text-anchor="middle" font-size="8.4" fill="#1a1a1a" stroke="#1a1a1a" stroke-width="0.22" transform="translate(508.34 347.5) scale(0.96 1)">28</text>
<text x="0" y="0" text-anchor="middle" font-size="9.6" fill="#1a1a1a" stroke="#1a1a1a" stroke-width="0.34" transform="translate(474.06 362.6) scale(0.77 1)">Day</text>
<text x="0" y="0" text-anchor="middle" font-size="9.0" fill="#1a1a1a" stroke="#1a1a1a" stroke-width="0.34" transform="translate(408.4 293.3) rotate(-90) scale(0.839 1)">IL-10, pg/mL</text>
</g>
<g>
<path d="M53.58 455V451.5M51.88 451.5H55.28" stroke="#98cc80" stroke-width="1.0" fill="none"/>
<path d="M62.6 454.4V445.2M60.9 445.2H64.3" stroke="#98cc80" stroke-width="1.0" fill="none"/>
<path d="M69.36 448.1V444.6M67.66 444.6H71.06" stroke="#98cc80" stroke-width="1.0" fill="none"/>
<path d="M78.39 440.5V413.8M76.69 413.8H80.09" stroke="#98cc80" stroke-width="1.0" fill="none"/>
<path d="M78.39 441.8V422M76.69 422H80.09" stroke="#d57892" stroke-width="1.0" fill="none"/>
<path d="M53.58 454.4V451.5M51.88 451.5H55.28" stroke="#7891c8" stroke-width="1.0" fill="none"/>
<path d="M78.39 443V410.5M76.69 410.5H80.09" stroke="#7891c8" stroke-width="1.0" fill="none"/>
<path d="M78.39 443V451.2M76.69 451.2H80.09" stroke="#7891c8" stroke-width="1.0" fill="none"/>
<path d="M94.17 453.1V441.5M92.47 441.5H95.87" stroke="#7891c8" stroke-width="1.0" fill="none"/>
<path d="M125.74 455.5V450M124.04 450H127.44" stroke="#7891c8" stroke-width="1.0" fill="none"/>
<path d="M53.58 455L62.6 454.4L69.36 448.1L78.39 440.5L94.17 455.2L125.74 455.5" stroke="#62ad44" stroke-width="0.8" fill="none"/>
<path d="M53.58 457L62.6 456.8L69.36 457.2L78.39 454.1L94.17 456.8L125.74 456.8" stroke="#f0a232" stroke-width="0.8" fill="none"/>
<path d="M53.58 455.5L62.6 455.5L69.36 449L78.39 441.8L94.17 455.5L125.74 456" stroke="#c0224f" stroke-width="0.8" fill="none"/>
<path d="M53.58 454.4L62.6 453.9L69.36 452.5L78.39 443L94.17 453.1L125.74 455.5" stroke="#34599f" stroke-width="0.8" fill="none"/>
<circle cx="53.58" cy="455" r="1.85" fill="#4a9a2a"/>
<circle cx="62.6" cy="454.4" r="1.85" fill="#4a9a2a"/>
<circle cx="69.36" cy="448.1" r="1.85" fill="#4a9a2a"/>
<circle cx="78.39" cy="440.5" r="1.85" fill="#4a9a2a"/>
<circle cx="94.17" cy="455.2" r="1.85" fill="#4a9a2a"/>
<circle cx="125.74" cy="455.5" r="1.85" fill="#4a9a2a"/>
<path d="M51.58 458.6L55.58 458.6L53.58 455.1Z" fill="#ef9b1c"/>
<path d="M60.6 458.4L64.6 458.4L62.6 454.9Z" fill="#ef9b1c"/>
<path d="M67.36 458.8L71.36 458.8L69.36 455.3Z" fill="#ef9b1c"/>
<path d="M76.39 455.7L80.39 455.7L78.39 452.2Z" fill="#ef9b1c"/>
<path d="M92.17 458.4L96.17 458.4L94.17 454.9Z" fill="#ef9b1c"/>
<path d="M123.74 458.4L127.74 458.4L125.74 454.9Z" fill="#ef9b1c"/>
<path d="M51.58 453.9L55.58 453.9L53.58 457.4Z" fill="#aa1442"/>
<path d="M60.6 453.9L64.6 453.9L62.6 457.4Z" fill="#aa1442"/>
<path d="M67.36 447.4L71.36 447.4L69.36 450.9Z" fill="#aa1442"/>
<path d="M76.39 440.2L80.39 440.2L78.39 443.7Z" fill="#aa1442"/>
<path d="M92.17 453.9L96.17 453.9L94.17 457.4Z" fill="#aa1442"/>
<path d="M123.74 454.4L127.74 454.4L125.74 457.9Z" fill="#aa1442"/>
<rect x="51.78" y="452.6" width="3.6" height="3.6" fill="#1b3a82"/>
<rect x="60.8" y="452.1" width="3.6" height="3.6" fill="#1b3a82"/>
<rect x="67.56" y="450.7" width="3.6" height="3.6" fill="#1b3a82"/>
<rect x="76.59" y="441.2" width="3.6" height="3.6" fill="#1b3a82"/>
<rect x="92.37" y="451.3" width="3.6" height="3.6" fill="#1b3a82"/>
<rect x="123.94" y="453.7" width="3.6" height="3.6" fill="#1b3a82"/>
<path d="M51.5 376.3V458.3M48.3 458.3H130.04" stroke="#111" stroke-width="1.15" fill="none"/>
<path d="M53.58 458.3v2.6M62.6 458.3v2.6M78.39 458.3v2.6M94.17 458.3v2.6M109.95 458.3v2.6M125.74 458.3v2.6" stroke="#111" stroke-width="0.9" fill="none"/>
<path d="M48.3 458.3H51.5M49.6 450.39H51.5M49.6 442.48H51.5M49.6 434.57H51.5M49.6 426.66H51.5M48.3 418.75H51.5M49.6 410.84H51.5M49.6 402.93H51.5M49.6 395.02H51.5M49.6 387.11H51.5M48.3 379.2H51.5" stroke="#111" stroke-width="0.9" fill="none"/>
<text x="0" y="0" text-anchor="end" font-size="8.4" fill="#1a1a1a" stroke="#1a1a1a" stroke-width="0.22" transform="translate(45.3 461.2) scale(0.96 1)">0</text>
<text x="0" y="0" text-anchor="end" font-size="8.4" fill="#1a1a1a" stroke="#1a1a1a" stroke-width="0.22" transform="translate(45.3 421.65) scale(0.96 1)">500</text>
<text x="0" y="0" text-anchor="end" font-size="8.4" fill="#1a1a1a" stroke="#1a1a1a" stroke-width="0.22" transform="translate(45.3 382.1) scale(0.96 1)">1000</text>
<text x="0" y="0" text-anchor="middle" font-size="8.4" fill="#1a1a1a" stroke="#1a1a1a" stroke-width="0.22" transform="translate(53.58 471.3) scale(0.96 1)">BL</text>
<text x="0" y="0" text-anchor="middle" font-size="8.4" fill="#1a1a1a" stroke="#1a1a1a" stroke-width="0.22" transform="translate(62.6 471.3) scale(0.96 1)">0</text>
<text x="0" y="0" text-anchor="middle" font-size="8.4" fill="#1a1a1a" stroke="#1a1a1a" stroke-width="0.22" transform="translate(78.39 471.3) scale(0.96 1)">7</text>
<text x="0" y="0" text-anchor="middle" font-size="8.4" fill="#1a1a1a" stroke="#1a1a1a" stroke-width="0.22" transform="translate(94.17 471.3) scale(0.96 1)">14</text>
<text x="0" y="0" text-anchor="middle" font-size="8.4" fill="#1a1a1a" stroke="#1a1a1a" stroke-width="0.22" transform="translate(109.95 471.3) scale(0.96 1)">21</text>
<text x="0" y="0" text-anchor="middle" font-size="8.4" fill="#1a1a1a" stroke="#1a1a1a" stroke-width="0.22" transform="translate(125.74 471.3) scale(0.96 1)">28</text>
<text x="0" y="0" text-anchor="middle" font-size="9.6" fill="#1a1a1a" stroke="#1a1a1a" stroke-width="0.34" transform="translate(91.46 484.4) scale(0.77 1)">Day</text>
<text x="0" y="0" text-anchor="middle" font-size="9.0" fill="#1a1a1a" stroke="#1a1a1a" stroke-width="0.34" transform="translate(21.9 417) rotate(-90) scale(0.847 1)">IL-8, pg/mL</text>
</g>
<g>
<path d="M188.7 444.1V432.3M187 432.3H190.4" stroke="#98cc80" stroke-width="1.0" fill="none"/>
<path d="M220.27 447.3V442.5M218.57 442.5H221.97" stroke="#98cc80" stroke-width="1.0" fill="none"/>
<path d="M251.84 441V434.7M250.14 434.7H253.54" stroke="#98cc80" stroke-width="1.0" fill="none"/>
<path d="M188.7 446.5V436.7M187 436.7H190.4" stroke="#f4c478" stroke-width="1.0" fill="none"/>
<path d="M195.46 427.6V405.4M193.76 405.4H197.16" stroke="#d57892" stroke-width="1.0" fill="none"/>
<path d="M179.68 448.1V441.5M177.98 441.5H181.38" stroke="#7891c8" stroke-width="1.0" fill="none"/>
<path d="M195.46 437.5V448.1M193.76 448.1H197.16" stroke="#7891c8" stroke-width="1.0" fill="none"/>
<path d="M204.48 434.7V405.4M202.78 405.4H206.18" stroke="#7891c8" stroke-width="1.0" fill="none"/>
<path d="M204.48 434.7V444.1M202.78 444.1H206.18" stroke="#7891c8" stroke-width="1.0" fill="none"/>
<path d="M220.27 447.3V424.4M218.57 424.4H221.97" stroke="#7891c8" stroke-width="1.0" fill="none"/>
<path d="M251.84 445.7V433.1M250.14 433.1H253.54" stroke="#7891c8" stroke-width="1.0" fill="none"/>
<path d="M179.68 452.8L188.7 444.1L195.46 415.2L204.48 405.4L220.27 447.3L251.84 441" stroke="#62ad44" stroke-width="0.8" fill="none"/>
<path d="M179.68 450.9L188.7 446.5L195.46 443.7L204.48 439.4L220.27 453.6L251.84 450.9" stroke="#f0a232" stroke-width="0.8" fill="none"/>
<path d="M179.68 450L188.7 448.1L195.46 427.6L204.48 405.4L220.27 448.9L251.84 444.9" stroke="#c0224f" stroke-width="0.8" fill="none"/>
<path d="M179.68 448.1L188.7 443.7L195.46 437.5L204.48 434.7L220.27 447.3L251.84 445.7" stroke="#34599f" stroke-width="0.8" fill="none"/>
<circle cx="179.68" cy="452.8" r="1.85" fill="#4a9a2a"/>
<circle cx="188.7" cy="444.1" r="1.85" fill="#4a9a2a"/>
<circle cx="195.46" cy="415.2" r="1.85" fill="#4a9a2a"/>
<circle cx="204.48" cy="405.4" r="1.85" fill="#4a9a2a"/>
<circle cx="220.27" cy="447.3" r="1.85" fill="#4a9a2a"/>
<circle cx="251.84" cy="441" r="1.85" fill="#4a9a2a"/>
<path d="M177.68 452.5L181.68 452.5L179.68 449Z" fill="#ef9b1c"/>
<path d="M186.7 448.1L190.7 448.1L188.7 444.6Z" fill="#ef9b1c"/>
<path d="M193.46 445.3L197.46 445.3L195.46 441.8Z" fill="#ef9b1c"/>
<path d="M202.48 441L206.48 441L204.48 437.5Z" fill="#ef9b1c"/>
<path d="M218.27 455.2L222.27 455.2L220.27 451.7Z" fill="#ef9b1c"/>
<path d="M249.84 452.5L253.84 452.5L251.84 449Z" fill="#ef9b1c"/>
<path d="M177.68 448.4L181.68 448.4L179.68 451.9Z" fill="#aa1442"/>
<path d="M186.7 446.5L190.7 446.5L188.7 450Z" fill="#aa1442"/>
<path d="M193.46 426L197.46 426L195.46 429.5Z" fill="#aa1442"/>
<path d="M202.48 403.8L206.48 403.8L204.48 407.3Z" fill="#aa1442"/>
<path d="M218.27 447.3L222.27 447.3L220.27 450.8Z" fill="#aa1442"/>
<path d="M249.84 443.3L253.84 443.3L251.84 446.8Z" fill="#aa1442"/>
<rect x="177.88" y="446.3" width="3.6" height="3.6" fill="#1b3a82"/>
<rect x="186.9" y="441.9" width="3.6" height="3.6" fill="#1b3a82"/>
<rect x="193.66" y="435.7" width="3.6" height="3.6" fill="#1b3a82"/>
<rect x="202.68" y="432.9" width="3.6" height="3.6" fill="#1b3a82"/>
<rect x="218.47" y="445.5" width="3.6" height="3.6" fill="#1b3a82"/>
<rect x="250.04" y="443.9" width="3.6" height="3.6" fill="#1b3a82"/>
<path d="M177.2 376.3V458.3M174 458.3H256.14" stroke="#111" stroke-width="1.15" fill="none"/>
<path d="M179.68 458.3v2.6M188.7 458.3v2.6M204.48 458.3v2.6M220.27 458.3v2.6M236.05 458.3v2.6M251.84 458.3v2.6" stroke="#111" stroke-width="0.9" fill="none"/>
<path d="M174 458.3H177.2M175.3 453.03H177.2M175.3 447.75H177.2M175.3 442.48H177.2M175.3 437.21H177.2M174 431.93H177.2M175.3 426.66H177.2M175.3 421.39H177.2M175.3 416.11H177.2M175.3 410.84H177.2M174 405.57H177.2M175.3 400.29H177.2M175.3 395.02H177.2M175.3 389.75H177.2M175.3 384.47H177.2M174 379.2H177.2" stroke="#111" stroke-width="0.9" fill="none"/>
<text x="0" y="0" text-anchor="end" font-size="8.4" fill="#1a1a1a" stroke="#1a1a1a" stroke-width="0.22" transform="translate(171 461.2) scale(0.96 1)">0</text>
<text x="0" y="0" text-anchor="end" font-size="8.4" fill="#1a1a1a" stroke="#1a1a1a" stroke-width="0.22" transform="translate(171 434.83) scale(0.96 1)">1000</text>
<text x="0" y="0" text-anchor="end" font-size="8.4" fill="#1a1a1a" stroke="#1a1a1a" stroke-width="0.22" transform="translate(171 408.47) scale(0.96 1)">2000</text>
<text x="0" y="0" text-anchor="end" font-size="8.4" fill="#1a1a1a" stroke="#1a1a1a" stroke-width="0.22" transform="translate(171 382.1) scale(0.96 1)">3000</text>
<text x="0" y="0" text-anchor="middle" font-size="8.4" fill="#1a1a1a" stroke="#1a1a1a" stroke-width="0.22" transform="translate(179.68 474.6) scale(0.96 1)">BL</text>
<text x="0" y="0" text-anchor="middle" font-size="8.4" fill="#1a1a1a" stroke="#1a1a1a" stroke-width="0.22" transform="translate(188.7 474.6) scale(0.96 1)">0</text>
<text x="0" y="0" text-anchor="middle" font-size="8.4" fill="#1a1a1a" stroke="#1a1a1a" stroke-width="0.22" transform="translate(204.48 474.6) scale(0.96 1)">7</text>
<text x="0" y="0" text-anchor="middle" font-size="8.4" fill="#1a1a1a" stroke="#1a1a1a" stroke-width="0.22" transform="translate(220.27 474.6) scale(0.96 1)">14</text>
<text x="0" y="0" text-anchor="middle" font-size="8.4" fill="#1a1a1a" stroke="#1a1a1a" stroke-width="0.22" transform="translate(236.05 474.6) scale(0.96 1)">21</text>
<text x="0" y="0" text-anchor="middle" font-size="8.4" fill="#1a1a1a" stroke="#1a1a1a" stroke-width="0.22" transform="translate(251.84 474.6) scale(0.96 1)">28</text>
<text x="0" y="0" text-anchor="middle" font-size="9.6" fill="#1a1a1a" stroke="#1a1a1a" stroke-width="0.34" transform="translate(217.56 490.6) scale(0.77 1)">Day</text>
<text x="0" y="0" text-anchor="middle" font-size="9.0" fill="#1a1a1a" stroke="#1a1a1a" stroke-width="0.34" transform="translate(147.8 416.6) rotate(-90) scale(0.785 1)">CXCL10, pg/mL</text>
</g>
<g>
<path d="M310.08 424.4V420.4M308.38 420.4H311.78" stroke="#98cc80" stroke-width="1.0" fill="none"/>
<path d="M319.1 418.9V405.1M317.4 405.1H320.8" stroke="#98cc80" stroke-width="1.0" fill="none"/>
<path d="M319.1 418.9V433M317.4 433H320.8" stroke="#98cc80" stroke-width="1.0" fill="none"/>
<path d="M325.87 399.9V419.8M324.17 419.8H327.56" stroke="#98cc80" stroke-width="1.0" fill="none"/>
<path d="M334.89 420.9V414M333.19 414H336.59" stroke="#98cc80" stroke-width="1.0" fill="none"/>
<path d="M334.89 420.9V441M333.19 441H336.59" stroke="#98cc80" stroke-width="1.0" fill="none"/>
<path d="M350.67 442.6V436M348.97 436H352.37" stroke="#98cc80" stroke-width="1.0" fill="none"/>
<path d="M382.24 441V438M380.54 438H383.94" stroke="#98cc80" stroke-width="1.0" fill="none"/>
<path d="M310.08 427.2V431M308.38 431H311.78" stroke="#f4c478" stroke-width="1.0" fill="none"/>
<path d="M325.87 426V433.3M324.17 433.3H327.56" stroke="#f4c478" stroke-width="1.0" fill="none"/>
<path d="M334.89 436.7V448M333.19 448H336.59" stroke="#f4c478" stroke-width="1.0" fill="none"/>
<path d="M350.67 445.7V452M348.97 452H352.37" stroke="#f4c478" stroke-width="1.0" fill="none"/>
<path d="M382.24 445.7V451M380.54 451H383.94" stroke="#f4c478" stroke-width="1.0" fill="none"/>
<path d="M310.08 423.3V400.1M308.38 400.1H311.78" stroke="#d57892" stroke-width="1.0" fill="none"/>
<path d="M310.08 423.3V439.5M308.38 439.5H311.78" stroke="#d57892" stroke-width="1.0" fill="none"/>
<path d="M319.1 420V399.1M317.4 399.1H320.8" stroke="#d57892" stroke-width="1.0" fill="none"/>
<path d="M319.1 420V431M317.4 431H320.8" stroke="#d57892" stroke-width="1.0" fill="none"/>
<path d="M325.87 398.3V397M324.17 397H327.56" stroke="#d57892" stroke-width="1.0" fill="none"/>
<path d="M325.87 398.3V428.8M324.17 428.8H327.56" stroke="#d57892" stroke-width="1.0" fill="none"/>
<path d="M350.67 445.2V430.7M348.97 430.7H352.37" stroke="#d57892" stroke-width="1.0" fill="none"/>
<path d="M350.67 445.2V450M348.97 450H352.37" stroke="#d57892" stroke-width="1.0" fill="none"/>
<path d="M382.24 445.2V421.2M380.54 421.2H383.94" stroke="#d57892" stroke-width="1.0" fill="none"/>
<path d="M382.24 445.2V450M380.54 450H383.94" stroke="#d57892" stroke-width="1.0" fill="none"/>
<path d="M310.08 426.3V413M308.38 413H311.78" stroke="#7891c8" stroke-width="1.0" fill="none"/>
<path d="M310.08 426.3V445.1M308.38 445.1H311.78" stroke="#7891c8" stroke-width="1.0" fill="none"/>
<path d="M319.1 417.3V399.5M317.4 399.5H320.8" stroke="#7891c8" stroke-width="1.0" fill="none"/>
<path d="M319.1 417.3V435M317.4 435H320.8" stroke="#7891c8" stroke-width="1.0" fill="none"/>
<path d="M325.87 414.1V405M324.17 405H327.56" stroke="#7891c8" stroke-width="1.0" fill="none"/>
<path d="M325.87 414.1V425M324.17 425H327.56" stroke="#7891c8" stroke-width="1.0" fill="none"/>
<path d="M334.89 402.6V399.5M333.19 399.5H336.59" stroke="#7891c8" stroke-width="1.0" fill="none"/>
<path d="M334.89 402.6V427.7M333.19 427.7H336.59" stroke="#7891c8" stroke-width="1.0" fill="none"/>
<path d="M350.67 441.8V411.4M348.97 411.4H352.37" stroke="#7891c8" stroke-width="1.0" fill="none"/>
<path d="M382.24 443.7V433.1M380.54 433.1H383.94" stroke="#7891c8" stroke-width="1.0" fill="none"/>
<path d="M310.08 424.4L319.1 418.9L325.87 399.9L334.89 420.9L350.67 442.6L382.24 441" stroke="#62ad44" stroke-width="0.8" fill="none"/>
<path d="M310.08 427.2L319.1 423.6L325.87 426L334.89 436.7L350.67 445.7L382.24 445.7" stroke="#f0a232" stroke-width="0.8" fill="none"/>
<path d="M310.08 423.3L319.1 420L325.87 398.3L334.89 410.5L350.67 445.2L382.24 445.2" stroke="#c0224f" stroke-width="0.8" fill="none"/>
<path d="M310.08 426.3L319.1 417.3L325.87 414.1L334.89 402.6L350.67 441.8L382.24 443.7" stroke="#34599f" stroke-width="0.8" fill="none"/>
<circle cx="310.08" cy="424.4" r="1.85" fill="#4a9a2a"/>
<circle cx="319.1" cy="418.9" r="1.85" fill="#4a9a2a"/>
<circle cx="325.87" cy="399.9" r="1.85" fill="#4a9a2a"/>
<circle cx="334.89" cy="420.9" r="1.85" fill="#4a9a2a"/>
<circle cx="350.67" cy="442.6" r="1.85" fill="#4a9a2a"/>
<circle cx="382.24" cy="441" r="1.85" fill="#4a9a2a"/>
<path d="M308.08 428.8L312.08 428.8L310.08 425.3Z" fill="#ef9b1c"/>
<path d="M317.1 425.2L321.1 425.2L319.1 421.7Z" fill="#ef9b1c"/>
<path d="M323.87 427.6L327.87 427.6L325.87 424.1Z" fill="#ef9b1c"/>
<path d="M332.89 438.3L336.89 438.3L334.89 434.8Z" fill="#ef9b1c"/>
<path d="M348.67 447.3L352.67 447.3L350.67 443.8Z" fill="#ef9b1c"/>
<path d="M380.24 447.3L384.24 447.3L382.24 443.8Z" fill="#ef9b1c"/>
<path d="M308.08 421.7L312.08 421.7L310.08 425.2Z" fill="#aa1442"/>
<path d="M317.1 418.4L321.1 418.4L319.1 421.9Z" fill="#aa1442"/>
<path d="M323.87 396.7L327.87 396.7L325.87 400.2Z" fill="#aa1442"/>
<path d="M332.89 408.9L336.89 408.9L334.89 412.4Z" fill="#aa1442"/>
<path d="M348.67 443.6L352.67 443.6L350.67 447.1Z" fill="#aa1442"/>
<path d="M380.24 443.6L384.24 443.6L382.24 447.1Z" fill="#aa1442"/>
<rect x="308.28" y="424.5" width="3.6" height="3.6" fill="#1b3a82"/>
<rect x="317.3" y="415.5" width="3.6" height="3.6" fill="#1b3a82"/>
<rect x="324.06" y="412.3" width="3.6" height="3.6" fill="#1b3a82"/>
<rect x="333.09" y="400.8" width="3.6" height="3.6" fill="#1b3a82"/>
<rect x="348.87" y="440" width="3.6" height="3.6" fill="#1b3a82"/>
<rect x="380.44" y="441.9" width="3.6" height="3.6" fill="#1b3a82"/>
<path d="M307.6 376.3V458.3M304.4 458.3H386.54" stroke="#111" stroke-width="1.15" fill="none"/>
<path d="M310.08 458.3v2.6M319.1 458.3v2.6M334.89 458.3v2.6M350.67 458.3v2.6M366.46 458.3v2.6M382.24 458.3v2.6" stroke="#111" stroke-width="0.9" fill="none"/>
<path d="M304.4 458.3H307.6M305.7 454.35H307.6M305.7 450.39H307.6M305.7 446.44H307.6M305.7 442.48H307.6M304.4 438.52H307.6M305.7 434.57H307.6M305.7 430.62H307.6M305.7 426.66H307.6M305.7 422.7H307.6M304.4 418.75H307.6M305.7 414.8H307.6M305.7 410.84H307.6M305.7 406.88H307.6M305.7 402.93H307.6M304.4 398.98H307.6M305.7 395.02H307.6M305.7 391.06H307.6M305.7 387.11H307.6M305.7 383.15H307.6M304.4 379.2H307.6" stroke="#111" stroke-width="0.9" fill="none"/>
<text x="0" y="0" text-anchor="end" font-size="8.4" fill="#1a1a1a" stroke="#1a1a1a" stroke-width="0.22" transform="translate(301.4 461.2) scale(0.96 1)">0</text>
<text x="0" y="0" text-anchor="end" font-size="8.4" fill="#1a1a1a" stroke="#1a1a1a" stroke-width="0.22" transform="translate(301.4 441.42) scale(0.96 1)">500</text>
<text x="0" y="0" text-anchor="end" font-size="8.4" fill="#1a1a1a" stroke="#1a1a1a" stroke-width="0.22" transform="translate(301.4 421.65) scale(0.96 1)">1000</text>
<text x="0" y="0" text-anchor="end" font-size="8.4" fill="#1a1a1a" stroke="#1a1a1a" stroke-width="0.22" transform="translate(301.4 401.88) scale(0.96 1)">1500</text>
<text x="0" y="0" text-anchor="end" font-size="8.4" fill="#1a1a1a" stroke="#1a1a1a" stroke-width="0.22" transform="translate(301.4 382.1) scale(0.96 1)">2000</text>
<text x="0" y="0" text-anchor="middle" font-size="8.4" fill="#1a1a1a" stroke="#1a1a1a" stroke-width="0.22" transform="translate(310.08 474.6) scale(0.96 1)">BL</text>
<text x="0" y="0" text-anchor="middle" font-size="8.4" fill="#1a1a1a" stroke="#1a1a1a" stroke-width="0.22" transform="translate(319.1 474.6) scale(0.96 1)">0</text>
<text x="0" y="0" text-anchor="middle" font-size="8.4" fill="#1a1a1a" stroke="#1a1a1a" stroke-width="0.22" transform="translate(334.89 474.6) scale(0.96 1)">7</text>
<text x="0" y="0" text-anchor="middle" font-size="8.4" fill="#1a1a1a" stroke="#1a1a1a" stroke-width="0.22" transform="translate(350.67 474.6) scale(0.96 1)">14</text>
<text x="0" y="0" text-anchor="middle" font-size="8.4" fill="#1a1a1a" stroke="#1a1a1a" stroke-width="0.22" transform="translate(366.46 474.6) scale(0.96 1)">21</text>
<text x="0" y="0" text-anchor="middle" font-size="8.4" fill="#1a1a1a" stroke="#1a1a1a" stroke-width="0.22" transform="translate(382.24 474.6) scale(0.96 1)">28</text>
<text x="0" y="0" text-anchor="middle" font-size="9.6" fill="#1a1a1a" stroke="#1a1a1a" stroke-width="0.34" transform="translate(347.96 490.6) scale(0.77 1)">Day</text>
<text x="0" y="0" text-anchor="middle" font-size="9.0" fill="#1a1a1a" stroke="#1a1a1a" stroke-width="0.34" transform="translate(277.8 417.2) rotate(-90) scale(0.834 1)">MCP-1, pg/mL</text>
</g>
<g>
<path d="M436.18 457.8V454.1M434.48 454.1H437.88" stroke="#98cc80" stroke-width="1.0" fill="none"/>
<path d="M445.2 456.8V452M443.5 452H446.9" stroke="#98cc80" stroke-width="1.0" fill="none"/>
<path d="M451.96 448.9V432.6M450.26 432.6H453.66" stroke="#98cc80" stroke-width="1.0" fill="none"/>
<path d="M476.77 457.5V454.4M475.07 454.4H478.47" stroke="#98cc80" stroke-width="1.0" fill="none"/>
<path d="M460.99 448.4V394.4M459.29 394.4H462.69" stroke="#d57892" stroke-width="1.0" fill="none"/>
<path d="M436.18 457.8L445.2 456.8L451.96 448.9L460.99 455.2L476.77 457.5L508.34 458" stroke="#62ad44" stroke-width="0.8" fill="none"/>
<path d="M436.18 458L445.2 458L451.96 458L460.99 457.5L476.77 458L508.34 458" stroke="#f0a232" stroke-width="0.8" fill="none"/>
<path d="M436.18 458L445.2 458L451.96 458L460.99 448.4L476.77 458L508.34 458" stroke="#c0224f" stroke-width="0.8" fill="none"/>
<path d="M436.18 458.2L445.2 458.2L451.96 458.2L460.99 458.2L476.77 458.2L508.34 458.2" stroke="#34599f" stroke-width="0.8" fill="none"/>
<circle cx="436.18" cy="457.8" r="1.85" fill="#4a9a2a"/>
<circle cx="445.2" cy="456.8" r="1.85" fill="#4a9a2a"/>
<circle cx="451.96" cy="448.9" r="1.85" fill="#4a9a2a"/>
<circle cx="460.99" cy="455.2" r="1.85" fill="#4a9a2a"/>
<circle cx="476.77" cy="457.5" r="1.85" fill="#4a9a2a"/>
<circle cx="508.34" cy="458" r="1.85" fill="#4a9a2a"/>
<path d="M434.18 459.6L438.18 459.6L436.18 456.1Z" fill="#ef9b1c"/>
<path d="M443.2 459.6L447.2 459.6L445.2 456.1Z" fill="#ef9b1c"/>
<path d="M449.96 459.6L453.96 459.6L451.96 456.1Z" fill="#ef9b1c"/>
<path d="M458.99 459.1L462.99 459.1L460.99 455.6Z" fill="#ef9b1c"/>
<path d="M474.77 459.6L478.77 459.6L476.77 456.1Z" fill="#ef9b1c"/>
<path d="M506.34 459.6L510.34 459.6L508.34 456.1Z" fill="#ef9b1c"/>
<path d="M434.18 456.4L438.18 456.4L436.18 459.9Z" fill="#aa1442"/>
<path d="M443.2 456.4L447.2 456.4L445.2 459.9Z" fill="#aa1442"/>
<path d="M449.96 456.4L453.96 456.4L451.96 459.9Z" fill="#aa1442"/>
<path d="M458.99 446.8L462.99 446.8L460.99 450.3Z" fill="#aa1442"/>
<path d="M474.77 456.4L478.77 456.4L476.77 459.9Z" fill="#aa1442"/>
<path d="M506.34 456.4L510.34 456.4L508.34 459.9Z" fill="#aa1442"/>
<rect x="434.38" y="456.4" width="3.6" height="3.6" fill="#1b3a82"/>
<rect x="443.4" y="456.4" width="3.6" height="3.6" fill="#1b3a82"/>
<rect x="450.16" y="456.4" width="3.6" height="3.6" fill="#1b3a82"/>
<rect x="459.19" y="456.4" width="3.6" height="3.6" fill="#1b3a82"/>
<rect x="474.97" y="456.4" width="3.6" height="3.6" fill="#1b3a82"/>
<rect x="506.54" y="456.4" width="3.6" height="3.6" fill="#1b3a82"/>
<path d="M433.9 376.3V458.3M430.7 458.3H512.64" stroke="#111" stroke-width="1.15" fill="none"/>
<path d="M436.18 458.3v2.6M445.2 458.3v2.6M460.99 458.3v2.6M476.77 458.3v2.6M492.56 458.3v2.6M508.34 458.3v2.6" stroke="#111" stroke-width="0.9" fill="none"/>
<path d="M430.7 458.3H433.9M432 455.14H433.9M432 451.97H433.9M432 448.81H433.9M432 445.64H433.9M430.7 442.48H433.9M432 439.32H433.9M432 436.15H433.9M432 432.99H433.9M432 429.82H433.9M430.7 426.66H433.9M432 423.5H433.9M432 420.33H433.9M432 417.17H433.9M432 414H433.9M430.7 410.84H433.9M432 407.68H433.9M432 404.51H433.9M432 401.35H433.9M432 398.18H433.9M430.7 395.02H433.9M432 391.86H433.9M432 388.69H433.9M432 385.53H433.9M432 382.36H433.9M430.7 379.2H433.9" stroke="#111" stroke-width="0.9" fill="none"/>
<text x="0" y="0" text-anchor="end" font-size="8.4" fill="#1a1a1a" stroke="#1a1a1a" stroke-width="0.22" transform="translate(427.7 461.2) scale(0.96 1)">0</text>
<text x="0" y="0" text-anchor="end" font-size="8.4" fill="#1a1a1a" stroke="#1a1a1a" stroke-width="0.22" transform="translate(427.7 445.38) scale(0.96 1)">200</text>
<text x="0" y="0" text-anchor="end" font-size="8.4" fill="#1a1a1a" stroke="#1a1a1a" stroke-width="0.22" transform="translate(427.7 429.56) scale(0.96 1)">400</text>
<text x="0" y="0" text-anchor="end" font-size="8.4" fill="#1a1a1a" stroke="#1a1a1a" stroke-width="0.22" transform="translate(427.7 413.74) scale(0.96 1)">600</text>
<text x="0" y="0" text-anchor="end" font-size="8.4" fill="#1a1a1a" stroke="#1a1a1a" stroke-width="0.22" transform="translate(427.7 397.92) scale(0.96 1)">800</text>
<text x="0" y="0" text-anchor="end" font-size="8.4" fill="#1a1a1a" stroke="#1a1a1a" stroke-width="0.22" transform="translate(427.7 382.1) scale(0.96 1)">1000</text>
<text x="0" y="0" text-anchor="middle" font-size="8.4" fill="#1a1a1a" stroke="#1a1a1a" stroke-width="0.22" transform="translate(436.18 474.6) scale(0.96 1)">BL</text>
<text x="0" y="0" text-anchor="middle" font-size="8.4" fill="#1a1a1a" stroke="#1a1a1a" stroke-width="0.22" transform="translate(445.2 474.6) scale(0.96 1)">0</text>
<text x="0" y="0" text-anchor="middle" font-size="8.4" fill="#1a1a1a" stroke="#1a1a1a" stroke-width="0.22" transform="translate(460.99 474.6) scale(0.96 1)">7</text>
<text x="0" y="0" text-anchor="middle" font-size="8.4" fill="#1a1a1a" stroke="#1a1a1a" stroke-width="0.22" transform="translate(476.77 474.6) scale(0.96 1)">14</text>
<text x="0" y="0" text-anchor="middle" font-size="8.4" fill="#1a1a1a" stroke="#1a1a1a" stroke-width="0.22" transform="translate(492.56 474.6) scale(0.96 1)">21</text>
<text x="0" y="0" text-anchor="middle" font-size="8.4" fill="#1a1a1a" stroke="#1a1a1a" stroke-width="0.22" transform="translate(508.34 474.6) scale(0.96 1)">28</text>
<text x="0" y="0" text-anchor="middle" font-size="9.6" fill="#1a1a1a" stroke="#1a1a1a" stroke-width="0.34" transform="translate(474.06 490.6) scale(0.77 1)">Day</text>
<text x="0" y="0" text-anchor="middle" font-size="9.0" fill="#1a1a1a" stroke="#1a1a1a" stroke-width="0.34" transform="translate(403.8 415.5) rotate(-90) scale(0.781 1)">Granzyme B, pg/mL</text>
</g>
<path d="M174.7 509.1h9.5" stroke="#98cc80" stroke-width="1"/><circle cx="179.5" cy="509.1" r="1.67" fill="#4a9a2a"/><text x="0" y="0" font-size="7.5" fill="#2a2a2a" transform="translate(186.9 511.4) scale(1.06 1)">2×10<tspan dy="-2.9" font-size="5.2">6</tspan></text>
<path d="M174.7 520.9h9.5" stroke="#7891c8" stroke-width="1"/><rect x="177.88" y="519.28" width="3.24" height="3.24" fill="#1b3a82"/><text x="0" y="0" font-size="7.5" fill="#2a2a2a" transform="translate(186.9 523.2) scale(1.06 1)">0.5×10<tspan dy="-2.9" font-size="5.2">6</tspan></text>
<path d="M222.9 509.1h9.5" stroke="#f4c478" stroke-width="1"/><path d="M225.9 510.54L229.5 510.54L227.7 507.39Z" fill="#ef9b1c"/><text x="0" y="0" font-size="7.5" fill="#2a2a2a" transform="translate(235.1 511.4) scale(1.0 1)">1×10<tspan dy="-2.9" font-size="5.2">6</tspan><tspan dy="2.9"> (revised AE management)</tspan></text>
<path d="M222.9 520.9h9.5" stroke="#d57892" stroke-width="1"/><path d="M225.9 519.46L229.5 519.46L227.7 522.61Z" fill="#aa1442"/><text x="0" y="0" font-size="7.5" fill="#2a2a2a" transform="translate(235.1 523.2) scale(1.0 1)">1×10<tspan dy="-2.9" font-size="5.2">6</tspan><tspan dy="2.9"> (original AE management)</tspan></text>
<rect x="0.5" y="0.5" width="519" height="531" fill="none" stroke="#000" stroke-width="1"/>
</svg>
</body></html>
